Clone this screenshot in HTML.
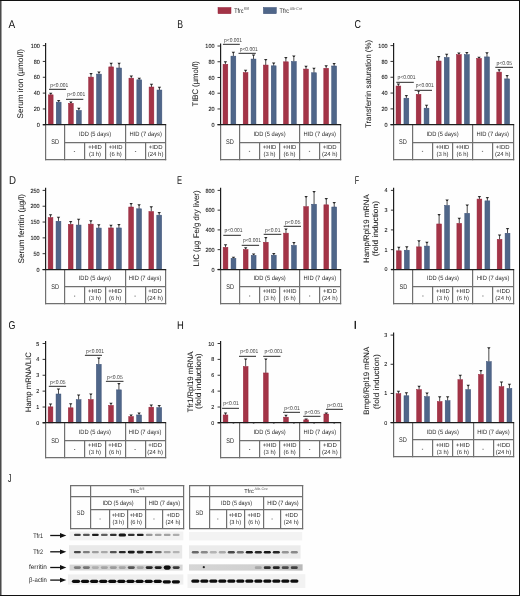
<!DOCTYPE html>
<html><head><meta charset="utf-8"><style>
html,body{margin:0;padding:0;background:#fff;width:520px;height:596px;overflow:hidden;}
svg{display:block;will-change:transform;text-rendering:geometricPrecision;font-family:"Liberation Sans", sans-serif;}
</style></head><body>
<svg width="520" height="596" viewBox="0 0 520 596" font-family="Liberation Sans, sans-serif">
<defs><filter id="bl" x="-20%" y="-60%" width="140%" height="220%"><feGaussianBlur stdDeviation="0.45"/></filter><linearGradient id="fg" x1="0" x2="1" y1="0" y2="0"><stop offset="0" stop-color="#d6d6d6"/><stop offset="0.7" stop-color="#cfcfcf"/><stop offset="1" stop-color="#b8b8b8"/></linearGradient></defs>
<rect x="0" y="0" width="520" height="596" fill="#fefefe"/>
<text x="8.40" y="27.60" font-size="11.4" fill="#111"  textLength="6.7" lengthAdjust="spacingAndGlyphs" >A</text>
<text x="177.20" y="27.60" font-size="11.4" fill="#111"  textLength="5.8" lengthAdjust="spacingAndGlyphs" >B</text>
<text x="354.50" y="27.60" font-size="11.4" fill="#111"  textLength="6.4" lengthAdjust="spacingAndGlyphs" >C</text>
<text x="8.90" y="183.90" font-size="11.4" fill="#111"  textLength="7.0" lengthAdjust="spacingAndGlyphs" >D</text>
<text x="177.00" y="183.90" font-size="11.4" fill="#111"  textLength="5.1" lengthAdjust="spacingAndGlyphs" >E</text>
<text x="354.70" y="183.90" font-size="11.4" fill="#111"  textLength="4.4" lengthAdjust="spacingAndGlyphs" >F</text>
<text x="8.40" y="328.90" font-size="11.4" fill="#111"  textLength="6.9" lengthAdjust="spacingAndGlyphs" >G</text>
<text x="177.00" y="328.90" font-size="11.4" fill="#111"  textLength="6.8" lengthAdjust="spacingAndGlyphs" >H</text>
<text x="7.70" y="481.80" font-size="11.4" fill="#111"  textLength="3.8" lengthAdjust="spacingAndGlyphs" >J</text>
<rect x="354.60" y="320.90" width="1.35" height="8.00" fill="#1a1a1a"/>
<rect x="218.00" y="7.50" width="13.00" height="6.20" fill="#a33447" stroke="#95223a" stroke-width="0.5"/>
<rect x="263.40" y="7.50" width="12.90" height="6.20" fill="#4f6689" stroke="#3a4f75" stroke-width="0.5"/>
<text x="234.20" y="13.30" font-size="6.5" fill="#1a1a1a"  textLength="9.3" lengthAdjust="spacingAndGlyphs" >Tfrc</text>
<text x="244.10" y="9.90" font-size="4.0" fill="#555"  textLength="5.0" lengthAdjust="spacingAndGlyphs" >fl/fl</text>
<text x="279.60" y="13.30" font-size="6.5" fill="#1a1a1a"  textLength="9.3" lengthAdjust="spacingAndGlyphs" >Tfrc</text>
<text x="289.80" y="9.90" font-size="4.0" fill="#555"  textLength="12.4" lengthAdjust="spacingAndGlyphs" >Alb-Cre</text>
<line x1="45.60" y1="43.00" x2="45.60" y2="124.80" stroke="#1e1e1e" stroke-width="1.2"/>
<line x1="42.80" y1="124.80" x2="45.60" y2="124.80" stroke="#1e1e1e" stroke-width="0.9"/>
<text x="39.80" y="126.90" font-size="6.0" fill="#1a1a1a" text-anchor="end" textLength="3.05" lengthAdjust="spacingAndGlyphs" stroke="#1a1a1a" stroke-width="0.1">0</text>
<line x1="42.80" y1="108.96" x2="45.60" y2="108.96" stroke="#1e1e1e" stroke-width="0.9"/>
<text x="39.80" y="111.06" font-size="6.0" fill="#1a1a1a" text-anchor="end" textLength="6.1" lengthAdjust="spacingAndGlyphs" stroke="#1a1a1a" stroke-width="0.1">20</text>
<line x1="42.80" y1="93.12" x2="45.60" y2="93.12" stroke="#1e1e1e" stroke-width="0.9"/>
<text x="39.80" y="95.22" font-size="6.0" fill="#1a1a1a" text-anchor="end" textLength="6.1" lengthAdjust="spacingAndGlyphs" stroke="#1a1a1a" stroke-width="0.1">40</text>
<line x1="42.80" y1="77.28" x2="45.60" y2="77.28" stroke="#1e1e1e" stroke-width="0.9"/>
<text x="39.80" y="79.38" font-size="6.0" fill="#1a1a1a" text-anchor="end" textLength="6.1" lengthAdjust="spacingAndGlyphs" stroke="#1a1a1a" stroke-width="0.1">60</text>
<line x1="42.80" y1="61.44" x2="45.60" y2="61.44" stroke="#1e1e1e" stroke-width="0.9"/>
<text x="39.80" y="63.54" font-size="6.0" fill="#1a1a1a" text-anchor="end" textLength="6.1" lengthAdjust="spacingAndGlyphs" stroke="#1a1a1a" stroke-width="0.1">80</text>
<line x1="42.80" y1="45.60" x2="45.60" y2="45.60" stroke="#1e1e1e" stroke-width="0.9"/>
<text x="39.80" y="47.70" font-size="6.0" fill="#1a1a1a" text-anchor="end" textLength="9.149999999999999" lengthAdjust="spacingAndGlyphs" stroke="#1a1a1a" stroke-width="0.1">100</text>
<text x="23.40" y="83.75" font-size="8.1" fill="#1a1a1a" text-anchor="middle" textLength="69.5" lengthAdjust="spacingAndGlyphs" transform="rotate(-90 23.4 83.75)" stroke="#1a1a1a" stroke-width="0.05">Serum iron (µmol/l)</text>
<line x1="45.60" y1="124.80" x2="45.60" y2="160.20" stroke="#707070" stroke-width="1.2"/>
<line x1="64.60" y1="124.80" x2="64.60" y2="160.20" stroke="#707070" stroke-width="1.2"/>
<line x1="125.60" y1="124.80" x2="125.60" y2="160.20" stroke="#707070" stroke-width="1.2"/>
<line x1="165.60" y1="124.80" x2="165.60" y2="160.20" stroke="#707070" stroke-width="1.2"/>
<line x1="84.60" y1="142.60" x2="84.60" y2="159.60" stroke="#707070" stroke-width="1.2"/>
<line x1="105.60" y1="142.60" x2="105.60" y2="159.60" stroke="#707070" stroke-width="1.2"/>
<line x1="145.60" y1="142.60" x2="145.60" y2="159.60" stroke="#707070" stroke-width="1.2"/>
<line x1="64.60" y1="142.60" x2="165.60" y2="142.60" stroke="#707070" stroke-width="1.2"/>
<line x1="45.00" y1="159.60" x2="166.20" y2="159.60" stroke="#707070" stroke-width="1.2"/>
<text x="55.15" y="144.40" font-size="6.8" fill="#2a2a2a" text-anchor="middle" textLength="7.8" lengthAdjust="spacingAndGlyphs" >SD</text>
<text x="95.05" y="135.70" font-size="6.25" fill="#2a2a2a" text-anchor="middle" textLength="32.2" lengthAdjust="spacingAndGlyphs" >IDD (5 days)</text>
<text x="145.65" y="135.70" font-size="6.25" fill="#2a2a2a" text-anchor="middle" textLength="32.5" lengthAdjust="spacingAndGlyphs" >HID (7 days)</text>
<rect x="73.85" y="151.00" width="1.20" height="0.80" fill="#555"/>
<rect x="134.95" y="151.00" width="1.20" height="0.80" fill="#555"/>
<text x="95.00" y="148.70" font-size="5.9" fill="#2a2a2a" text-anchor="middle" textLength="13.6" lengthAdjust="spacingAndGlyphs" >+HID</text>
<text x="95.00" y="155.70" font-size="5.9" fill="#2a2a2a" text-anchor="middle" textLength="12.1" lengthAdjust="spacingAndGlyphs" >(3 h)</text>
<text x="115.60" y="148.70" font-size="5.9" fill="#2a2a2a" text-anchor="middle" textLength="13.6" lengthAdjust="spacingAndGlyphs" >+HID</text>
<text x="115.60" y="155.70" font-size="5.9" fill="#2a2a2a" text-anchor="middle" textLength="12.1" lengthAdjust="spacingAndGlyphs" >(6 h)</text>
<text x="155.60" y="148.70" font-size="5.9" fill="#2a2a2a" text-anchor="middle" textLength="13.8" lengthAdjust="spacingAndGlyphs" >+IDD</text>
<text x="155.60" y="155.70" font-size="5.9" fill="#2a2a2a" text-anchor="middle" textLength="15.6" lengthAdjust="spacingAndGlyphs" >(24 h)</text>
<line x1="50.73" y1="93.28" x2="50.73" y2="94.86" stroke="#4a4a4a" stroke-width="1.0"/>
<path d="M49.02 92.68 H52.43 L51.33 94.18 H50.12 Z" fill="#2a2a2a"/>
<rect x="48.35" y="94.86" width="4.75" height="29.94" fill="#a33447" stroke="#95223a" stroke-width="0.5"/>
<line x1="58.67" y1="100.49" x2="58.67" y2="102.15" stroke="#4a4a4a" stroke-width="1.0"/>
<path d="M56.97 99.89 H60.38 L59.27 101.39 H58.07 Z" fill="#2a2a2a"/>
<rect x="56.25" y="102.15" width="4.85" height="22.65" fill="#4f6689" stroke="#3a4f75" stroke-width="0.5"/>
<line x1="70.88" y1="102.15" x2="70.88" y2="103.34" stroke="#4a4a4a" stroke-width="1.0"/>
<path d="M69.17 101.55 H72.58 L71.47 103.05 H70.28 Z" fill="#2a2a2a"/>
<rect x="68.50" y="103.34" width="4.75" height="21.46" fill="#a33447" stroke="#95223a" stroke-width="0.5"/>
<line x1="78.82" y1="108.25" x2="78.82" y2="110.46" stroke="#4a4a4a" stroke-width="1.0"/>
<path d="M77.12 107.65 H80.52 L79.42 109.15 H78.22 Z" fill="#2a2a2a"/>
<rect x="76.40" y="110.46" width="4.85" height="14.34" fill="#4f6689" stroke="#3a4f75" stroke-width="0.5"/>
<line x1="91.02" y1="73.64" x2="91.02" y2="77.12" stroke="#4a4a4a" stroke-width="1.0"/>
<path d="M89.32 73.04 H92.72 L91.62 74.54 H90.42 Z" fill="#2a2a2a"/>
<rect x="88.65" y="77.12" width="4.75" height="47.68" fill="#a33447" stroke="#95223a" stroke-width="0.5"/>
<line x1="98.97" y1="72.13" x2="98.97" y2="74.11" stroke="#4a4a4a" stroke-width="1.0"/>
<path d="M97.27 71.53 H100.67 L99.57 73.03 H98.37 Z" fill="#2a2a2a"/>
<rect x="96.55" y="74.11" width="4.85" height="50.69" fill="#4f6689" stroke="#3a4f75" stroke-width="0.5"/>
<line x1="111.17" y1="63.34" x2="111.17" y2="66.90" stroke="#4a4a4a" stroke-width="1.0"/>
<path d="M109.47 62.74 H112.88 L111.77 64.24 H110.58 Z" fill="#2a2a2a"/>
<rect x="108.80" y="66.90" width="4.75" height="57.90" fill="#a33447" stroke="#95223a" stroke-width="0.5"/>
<line x1="119.12" y1="63.34" x2="119.12" y2="68.01" stroke="#4a4a4a" stroke-width="1.0"/>
<path d="M117.42 62.74 H120.82 L119.72 64.24 H118.52 Z" fill="#2a2a2a"/>
<rect x="116.70" y="68.01" width="4.85" height="56.79" fill="#4f6689" stroke="#3a4f75" stroke-width="0.5"/>
<line x1="131.32" y1="76.01" x2="131.32" y2="78.15" stroke="#4a4a4a" stroke-width="1.0"/>
<path d="M129.62 75.41 H133.02 L131.92 76.91 H130.72 Z" fill="#2a2a2a"/>
<rect x="128.95" y="78.15" width="4.75" height="46.65" fill="#a33447" stroke="#95223a" stroke-width="0.5"/>
<line x1="139.28" y1="78.31" x2="139.28" y2="79.81" stroke="#4a4a4a" stroke-width="1.0"/>
<path d="M137.58 77.71 H140.97 L139.88 79.21 H138.68 Z" fill="#2a2a2a"/>
<rect x="136.85" y="79.81" width="4.85" height="44.99" fill="#4f6689" stroke="#3a4f75" stroke-width="0.5"/>
<line x1="151.47" y1="84.25" x2="151.47" y2="87.02" stroke="#4a4a4a" stroke-width="1.0"/>
<path d="M149.78 83.65 H153.17 L152.07 85.15 H150.88 Z" fill="#2a2a2a"/>
<rect x="149.10" y="87.02" width="4.75" height="37.78" fill="#a33447" stroke="#95223a" stroke-width="0.5"/>
<line x1="159.43" y1="87.34" x2="159.43" y2="90.03" stroke="#4a4a4a" stroke-width="1.0"/>
<path d="M157.73 86.74 H161.12 L160.03 88.24 H158.83 Z" fill="#2a2a2a"/>
<rect x="157.00" y="90.03" width="4.85" height="34.77" fill="#4f6689" stroke="#3a4f75" stroke-width="0.5"/>
<line x1="42.80" y1="124.60" x2="166.20" y2="124.60" stroke="#1e1e1e" stroke-width="1.2"/>
<line x1="49.00" y1="89.40" x2="66.00" y2="89.40" stroke="#505050" stroke-width="1.25"/>
<text x="50.20" y="87.10" font-size="5.6" fill="#444"  textLength="18.0" lengthAdjust="spacingAndGlyphs" >p&lt;0.001</text>
<line x1="66.00" y1="99.40" x2="83.30" y2="99.40" stroke="#505050" stroke-width="1.25"/>
<text x="67.20" y="96.30" font-size="5.6" fill="#444"  textLength="18.0" lengthAdjust="spacingAndGlyphs" >p&lt;0.001</text>
<line x1="220.60" y1="43.40" x2="220.60" y2="124.70" stroke="#1e1e1e" stroke-width="1.2"/>
<line x1="217.50" y1="124.70" x2="220.60" y2="124.70" stroke="#1e1e1e" stroke-width="0.9"/>
<text x="214.50" y="126.80" font-size="6.0" fill="#1a1a1a" text-anchor="end" textLength="3.05" lengthAdjust="spacingAndGlyphs" stroke="#1a1a1a" stroke-width="0.1">0</text>
<line x1="217.50" y1="108.96" x2="220.60" y2="108.96" stroke="#1e1e1e" stroke-width="0.9"/>
<text x="214.50" y="111.06" font-size="6.0" fill="#1a1a1a" text-anchor="end" textLength="6.1" lengthAdjust="spacingAndGlyphs" stroke="#1a1a1a" stroke-width="0.1">20</text>
<line x1="217.50" y1="93.22" x2="220.60" y2="93.22" stroke="#1e1e1e" stroke-width="0.9"/>
<text x="214.50" y="95.32" font-size="6.0" fill="#1a1a1a" text-anchor="end" textLength="6.1" lengthAdjust="spacingAndGlyphs" stroke="#1a1a1a" stroke-width="0.1">40</text>
<line x1="217.50" y1="77.48" x2="220.60" y2="77.48" stroke="#1e1e1e" stroke-width="0.9"/>
<text x="214.50" y="79.58" font-size="6.0" fill="#1a1a1a" text-anchor="end" textLength="6.1" lengthAdjust="spacingAndGlyphs" stroke="#1a1a1a" stroke-width="0.1">60</text>
<line x1="217.50" y1="61.74" x2="220.60" y2="61.74" stroke="#1e1e1e" stroke-width="0.9"/>
<text x="214.50" y="63.84" font-size="6.0" fill="#1a1a1a" text-anchor="end" textLength="6.1" lengthAdjust="spacingAndGlyphs" stroke="#1a1a1a" stroke-width="0.1">80</text>
<line x1="217.50" y1="46.00" x2="220.60" y2="46.00" stroke="#1e1e1e" stroke-width="0.9"/>
<text x="214.50" y="48.10" font-size="6.0" fill="#1a1a1a" text-anchor="end" textLength="9.149999999999999" lengthAdjust="spacingAndGlyphs" stroke="#1a1a1a" stroke-width="0.1">100</text>
<text x="197.90" y="83.80" font-size="8.1" fill="#1a1a1a" text-anchor="middle" textLength="45.4" lengthAdjust="spacingAndGlyphs" transform="rotate(-90 197.9 83.8)" stroke="#1a1a1a" stroke-width="0.05">TIBC (µmol/l)</text>
<line x1="220.60" y1="124.70" x2="220.60" y2="160.20" stroke="#707070" stroke-width="1.2"/>
<line x1="239.60" y1="124.70" x2="239.60" y2="160.20" stroke="#707070" stroke-width="1.2"/>
<line x1="299.60" y1="124.70" x2="299.60" y2="160.20" stroke="#707070" stroke-width="1.2"/>
<line x1="340.60" y1="124.70" x2="340.60" y2="160.20" stroke="#707070" stroke-width="1.2"/>
<line x1="259.60" y1="142.60" x2="259.60" y2="159.60" stroke="#707070" stroke-width="1.2"/>
<line x1="279.60" y1="142.60" x2="279.60" y2="159.60" stroke="#707070" stroke-width="1.2"/>
<line x1="319.60" y1="142.60" x2="319.60" y2="159.60" stroke="#707070" stroke-width="1.2"/>
<line x1="239.60" y1="142.60" x2="340.60" y2="142.60" stroke="#707070" stroke-width="1.2"/>
<line x1="220.00" y1="159.60" x2="341.20" y2="159.60" stroke="#707070" stroke-width="1.2"/>
<text x="230.00" y="144.30" font-size="6.8" fill="#2a2a2a" text-anchor="middle" textLength="7.8" lengthAdjust="spacingAndGlyphs" >SD</text>
<text x="269.50" y="135.60" font-size="6.25" fill="#2a2a2a" text-anchor="middle" textLength="32.2" lengthAdjust="spacingAndGlyphs" >IDD (5 days)</text>
<text x="319.75" y="135.60" font-size="6.25" fill="#2a2a2a" text-anchor="middle" textLength="32.5" lengthAdjust="spacingAndGlyphs" >HID (7 days)</text>
<rect x="248.90" y="150.90" width="1.20" height="0.80" fill="#555"/>
<rect x="308.90" y="150.90" width="1.20" height="0.80" fill="#555"/>
<text x="269.50" y="148.60" font-size="5.9" fill="#2a2a2a" text-anchor="middle" textLength="13.6" lengthAdjust="spacingAndGlyphs" >+HID</text>
<text x="269.50" y="155.60" font-size="5.9" fill="#2a2a2a" text-anchor="middle" textLength="12.1" lengthAdjust="spacingAndGlyphs" >(3 h)</text>
<text x="289.50" y="148.60" font-size="5.9" fill="#2a2a2a" text-anchor="middle" textLength="13.6" lengthAdjust="spacingAndGlyphs" >+HID</text>
<text x="289.50" y="155.60" font-size="5.9" fill="#2a2a2a" text-anchor="middle" textLength="12.1" lengthAdjust="spacingAndGlyphs" >(6 h)</text>
<text x="329.75" y="148.60" font-size="5.9" fill="#2a2a2a" text-anchor="middle" textLength="13.8" lengthAdjust="spacingAndGlyphs" >+IDD</text>
<text x="329.75" y="155.60" font-size="5.9" fill="#2a2a2a" text-anchor="middle" textLength="15.6" lengthAdjust="spacingAndGlyphs" >(24 h)</text>
<line x1="225.42" y1="61.82" x2="225.42" y2="64.26" stroke="#4a4a4a" stroke-width="1.0"/>
<path d="M223.72 61.22 H227.12 L226.02 62.72 H224.82 Z" fill="#2a2a2a"/>
<rect x="223.05" y="64.26" width="4.75" height="60.44" fill="#a33447" stroke="#95223a" stroke-width="0.5"/>
<line x1="233.38" y1="52.30" x2="233.38" y2="56.15" stroke="#4a4a4a" stroke-width="1.0"/>
<path d="M231.68 51.70 H235.07 L233.97 53.20 H232.78 Z" fill="#2a2a2a"/>
<rect x="230.95" y="56.15" width="4.85" height="68.55" fill="#4f6689" stroke="#3a4f75" stroke-width="0.5"/>
<line x1="245.57" y1="70.24" x2="245.57" y2="72.60" stroke="#4a4a4a" stroke-width="1.0"/>
<path d="M243.88 69.64 H247.27 L246.17 71.14 H244.97 Z" fill="#2a2a2a"/>
<rect x="243.20" y="72.60" width="4.75" height="52.10" fill="#a33447" stroke="#95223a" stroke-width="0.5"/>
<line x1="253.53" y1="55.21" x2="253.53" y2="59.06" stroke="#4a4a4a" stroke-width="1.0"/>
<path d="M251.83 54.61 H255.22 L254.12 56.11 H252.93 Z" fill="#2a2a2a"/>
<rect x="251.10" y="59.06" width="4.85" height="65.64" fill="#4f6689" stroke="#3a4f75" stroke-width="0.5"/>
<line x1="265.72" y1="59.54" x2="265.72" y2="65.05" stroke="#4a4a4a" stroke-width="1.0"/>
<path d="M264.02 58.94 H267.42 L266.32 60.44 H265.12 Z" fill="#2a2a2a"/>
<rect x="263.35" y="65.05" width="4.75" height="59.65" fill="#a33447" stroke="#95223a" stroke-width="0.5"/>
<line x1="273.68" y1="63.08" x2="273.68" y2="65.83" stroke="#4a4a4a" stroke-width="1.0"/>
<path d="M271.98 62.48 H275.38 L274.28 63.98 H273.07 Z" fill="#2a2a2a"/>
<rect x="271.25" y="65.83" width="4.85" height="58.87" fill="#4f6689" stroke="#3a4f75" stroke-width="0.5"/>
<line x1="285.88" y1="57.49" x2="285.88" y2="61.82" stroke="#4a4a4a" stroke-width="1.0"/>
<path d="M284.18 56.89 H287.57 L286.48 58.39 H285.27 Z" fill="#2a2a2a"/>
<rect x="283.50" y="61.82" width="4.75" height="62.88" fill="#a33447" stroke="#95223a" stroke-width="0.5"/>
<line x1="293.83" y1="55.99" x2="293.83" y2="61.50" stroke="#4a4a4a" stroke-width="1.0"/>
<path d="M292.13 55.39 H295.53 L294.43 56.89 H293.23 Z" fill="#2a2a2a"/>
<rect x="291.40" y="61.50" width="4.85" height="63.20" fill="#4f6689" stroke="#3a4f75" stroke-width="0.5"/>
<line x1="306.02" y1="66.46" x2="306.02" y2="69.06" stroke="#4a4a4a" stroke-width="1.0"/>
<path d="M304.32 65.86 H307.72 L306.62 67.36 H305.42 Z" fill="#2a2a2a"/>
<rect x="303.65" y="69.06" width="4.75" height="55.64" fill="#a33447" stroke="#95223a" stroke-width="0.5"/>
<line x1="313.98" y1="68.43" x2="313.98" y2="72.76" stroke="#4a4a4a" stroke-width="1.0"/>
<path d="M312.28 67.83 H315.68 L314.58 69.33 H313.38 Z" fill="#2a2a2a"/>
<rect x="311.55" y="72.76" width="4.85" height="51.94" fill="#4f6689" stroke="#3a4f75" stroke-width="0.5"/>
<line x1="326.18" y1="65.83" x2="326.18" y2="68.27" stroke="#4a4a4a" stroke-width="1.0"/>
<path d="M324.48 65.23 H327.88 L326.78 66.73 H325.57 Z" fill="#2a2a2a"/>
<rect x="323.80" y="68.27" width="4.75" height="56.43" fill="#a33447" stroke="#95223a" stroke-width="0.5"/>
<line x1="334.13" y1="63.55" x2="334.13" y2="65.99" stroke="#4a4a4a" stroke-width="1.0"/>
<path d="M332.43 62.95 H335.83 L334.73 64.45 H333.53 Z" fill="#2a2a2a"/>
<rect x="331.70" y="65.99" width="4.85" height="58.71" fill="#4f6689" stroke="#3a4f75" stroke-width="0.5"/>
<line x1="217.50" y1="124.60" x2="341.20" y2="124.60" stroke="#1e1e1e" stroke-width="1.2"/>
<line x1="222.90" y1="44.40" x2="239.80" y2="44.40" stroke="#505050" stroke-width="1.25"/>
<text x="224.10" y="42.10" font-size="5.6" fill="#444"  textLength="18.0" lengthAdjust="spacingAndGlyphs" >p&lt;0.001</text>
<line x1="238.50" y1="53.40" x2="255.80" y2="53.40" stroke="#505050" stroke-width="1.25"/>
<text x="239.70" y="50.80" font-size="5.6" fill="#444"  textLength="18.0" lengthAdjust="spacingAndGlyphs" >p&lt;0.001</text>
<line x1="393.60" y1="43.00" x2="393.60" y2="124.70" stroke="#1e1e1e" stroke-width="1.2"/>
<line x1="390.50" y1="124.70" x2="393.60" y2="124.70" stroke="#1e1e1e" stroke-width="0.9"/>
<text x="387.50" y="126.80" font-size="6.0" fill="#1a1a1a" text-anchor="end" textLength="3.05" lengthAdjust="spacingAndGlyphs" stroke="#1a1a1a" stroke-width="0.1">0</text>
<line x1="390.50" y1="108.88" x2="393.60" y2="108.88" stroke="#1e1e1e" stroke-width="0.9"/>
<text x="387.50" y="110.98" font-size="6.0" fill="#1a1a1a" text-anchor="end" textLength="6.1" lengthAdjust="spacingAndGlyphs" stroke="#1a1a1a" stroke-width="0.1">20</text>
<line x1="390.50" y1="93.06" x2="393.60" y2="93.06" stroke="#1e1e1e" stroke-width="0.9"/>
<text x="387.50" y="95.16" font-size="6.0" fill="#1a1a1a" text-anchor="end" textLength="6.1" lengthAdjust="spacingAndGlyphs" stroke="#1a1a1a" stroke-width="0.1">40</text>
<line x1="390.50" y1="77.24" x2="393.60" y2="77.24" stroke="#1e1e1e" stroke-width="0.9"/>
<text x="387.50" y="79.34" font-size="6.0" fill="#1a1a1a" text-anchor="end" textLength="6.1" lengthAdjust="spacingAndGlyphs" stroke="#1a1a1a" stroke-width="0.1">60</text>
<line x1="390.50" y1="61.42" x2="393.60" y2="61.42" stroke="#1e1e1e" stroke-width="0.9"/>
<text x="387.50" y="63.52" font-size="6.0" fill="#1a1a1a" text-anchor="end" textLength="6.1" lengthAdjust="spacingAndGlyphs" stroke="#1a1a1a" stroke-width="0.1">80</text>
<line x1="390.50" y1="45.60" x2="393.60" y2="45.60" stroke="#1e1e1e" stroke-width="0.9"/>
<text x="387.50" y="47.70" font-size="6.0" fill="#1a1a1a" text-anchor="end" textLength="9.149999999999999" lengthAdjust="spacingAndGlyphs" stroke="#1a1a1a" stroke-width="0.1">100</text>
<text x="371.40" y="84.00" font-size="8.1" fill="#1a1a1a" text-anchor="middle" textLength="88" lengthAdjust="spacingAndGlyphs" transform="rotate(-90 371.4 84.0)" stroke="#1a1a1a" stroke-width="0.05">Transferrin saturation (%)</text>
<line x1="393.60" y1="124.70" x2="393.60" y2="160.20" stroke="#707070" stroke-width="1.2"/>
<line x1="412.60" y1="124.70" x2="412.60" y2="160.20" stroke="#707070" stroke-width="1.2"/>
<line x1="472.60" y1="124.70" x2="472.60" y2="160.20" stroke="#707070" stroke-width="1.2"/>
<line x1="513.60" y1="124.70" x2="513.60" y2="160.20" stroke="#707070" stroke-width="1.2"/>
<line x1="432.60" y1="142.60" x2="432.60" y2="159.60" stroke="#707070" stroke-width="1.2"/>
<line x1="452.60" y1="142.60" x2="452.60" y2="159.60" stroke="#707070" stroke-width="1.2"/>
<line x1="492.60" y1="142.60" x2="492.60" y2="159.60" stroke="#707070" stroke-width="1.2"/>
<line x1="412.60" y1="142.60" x2="513.60" y2="142.60" stroke="#707070" stroke-width="1.2"/>
<line x1="393.00" y1="159.60" x2="514.20" y2="159.60" stroke="#707070" stroke-width="1.2"/>
<text x="403.00" y="144.30" font-size="6.8" fill="#2a2a2a" text-anchor="middle" textLength="7.8" lengthAdjust="spacingAndGlyphs" >SD</text>
<text x="442.50" y="135.60" font-size="6.25" fill="#2a2a2a" text-anchor="middle" textLength="32.2" lengthAdjust="spacingAndGlyphs" >IDD (5 days)</text>
<text x="492.75" y="135.60" font-size="6.25" fill="#2a2a2a" text-anchor="middle" textLength="32.5" lengthAdjust="spacingAndGlyphs" >HID (7 days)</text>
<rect x="421.90" y="150.90" width="1.20" height="0.80" fill="#555"/>
<rect x="481.90" y="150.90" width="1.20" height="0.80" fill="#555"/>
<text x="442.50" y="148.60" font-size="5.9" fill="#2a2a2a" text-anchor="middle" textLength="13.6" lengthAdjust="spacingAndGlyphs" >+HID</text>
<text x="442.50" y="155.60" font-size="5.9" fill="#2a2a2a" text-anchor="middle" textLength="12.1" lengthAdjust="spacingAndGlyphs" >(3 h)</text>
<text x="462.50" y="148.60" font-size="5.9" fill="#2a2a2a" text-anchor="middle" textLength="13.6" lengthAdjust="spacingAndGlyphs" >+HID</text>
<text x="462.50" y="155.60" font-size="5.9" fill="#2a2a2a" text-anchor="middle" textLength="12.1" lengthAdjust="spacingAndGlyphs" >(6 h)</text>
<text x="502.75" y="148.60" font-size="5.9" fill="#2a2a2a" text-anchor="middle" textLength="13.8" lengthAdjust="spacingAndGlyphs" >+IDD</text>
<text x="502.75" y="155.60" font-size="5.9" fill="#2a2a2a" text-anchor="middle" textLength="15.6" lengthAdjust="spacingAndGlyphs" >(24 h)</text>
<line x1="398.43" y1="84.20" x2="398.43" y2="86.02" stroke="#4a4a4a" stroke-width="1.0"/>
<path d="M396.73 83.60 H400.12 L399.03 85.10 H397.82 Z" fill="#2a2a2a"/>
<rect x="396.05" y="86.02" width="4.75" height="38.68" fill="#a33447" stroke="#95223a" stroke-width="0.5"/>
<line x1="406.38" y1="95.51" x2="406.38" y2="98.20" stroke="#4a4a4a" stroke-width="1.0"/>
<path d="M404.68 94.91 H408.08 L406.98 96.41 H405.78 Z" fill="#2a2a2a"/>
<rect x="403.95" y="98.20" width="4.85" height="26.50" fill="#4f6689" stroke="#3a4f75" stroke-width="0.5"/>
<line x1="418.57" y1="91.00" x2="418.57" y2="94.33" stroke="#4a4a4a" stroke-width="1.0"/>
<path d="M416.88 90.40 H420.27 L419.18 91.90 H417.97 Z" fill="#2a2a2a"/>
<rect x="416.20" y="94.33" width="4.75" height="30.37" fill="#a33447" stroke="#95223a" stroke-width="0.5"/>
<line x1="426.53" y1="105.32" x2="426.53" y2="108.17" stroke="#4a4a4a" stroke-width="1.0"/>
<path d="M424.83 104.72 H428.23 L427.13 106.22 H425.93 Z" fill="#2a2a2a"/>
<rect x="424.10" y="108.17" width="4.85" height="16.53" fill="#4f6689" stroke="#3a4f75" stroke-width="0.5"/>
<line x1="438.73" y1="56.52" x2="438.73" y2="61.02" stroke="#4a4a4a" stroke-width="1.0"/>
<path d="M437.03 55.92 H440.43 L439.33 57.42 H438.12 Z" fill="#2a2a2a"/>
<rect x="436.35" y="61.02" width="4.75" height="63.68" fill="#a33447" stroke="#95223a" stroke-width="0.5"/>
<line x1="446.68" y1="54.30" x2="446.68" y2="57.47" stroke="#4a4a4a" stroke-width="1.0"/>
<path d="M444.98 53.70 H448.38 L447.28 55.20 H446.08 Z" fill="#2a2a2a"/>
<rect x="444.25" y="57.47" width="4.85" height="67.23" fill="#4f6689" stroke="#3a4f75" stroke-width="0.5"/>
<line x1="458.88" y1="53.11" x2="458.88" y2="54.62" stroke="#4a4a4a" stroke-width="1.0"/>
<path d="M457.18 52.51 H460.57 L459.48 54.01 H458.27 Z" fill="#2a2a2a"/>
<rect x="456.50" y="54.62" width="4.75" height="70.08" fill="#a33447" stroke="#95223a" stroke-width="0.5"/>
<line x1="466.83" y1="52.72" x2="466.83" y2="54.62" stroke="#4a4a4a" stroke-width="1.0"/>
<path d="M465.13 52.12 H468.53 L467.43 53.62 H466.23 Z" fill="#2a2a2a"/>
<rect x="464.40" y="54.62" width="4.85" height="70.08" fill="#4f6689" stroke="#3a4f75" stroke-width="0.5"/>
<line x1="479.03" y1="57.47" x2="479.03" y2="58.41" stroke="#4a4a4a" stroke-width="1.0"/>
<path d="M477.33 56.87 H480.73 L479.63 58.37 H478.43 Z" fill="#2a2a2a"/>
<rect x="476.65" y="58.41" width="4.75" height="66.29" fill="#a33447" stroke="#95223a" stroke-width="0.5"/>
<line x1="486.98" y1="52.80" x2="486.98" y2="56.91" stroke="#4a4a4a" stroke-width="1.0"/>
<path d="M485.28 52.20 H488.68 L487.58 53.70 H486.38 Z" fill="#2a2a2a"/>
<rect x="484.55" y="56.91" width="4.85" height="67.79" fill="#4f6689" stroke="#3a4f75" stroke-width="0.5"/>
<line x1="499.18" y1="69.73" x2="499.18" y2="72.10" stroke="#4a4a4a" stroke-width="1.0"/>
<path d="M497.48 69.13 H500.88 L499.78 70.63 H498.57 Z" fill="#2a2a2a"/>
<rect x="496.80" y="72.10" width="4.75" height="52.60" fill="#a33447" stroke="#95223a" stroke-width="0.5"/>
<line x1="507.13" y1="75.58" x2="507.13" y2="78.90" stroke="#4a4a4a" stroke-width="1.0"/>
<path d="M505.43 74.98 H508.83 L507.73 76.48 H506.53 Z" fill="#2a2a2a"/>
<rect x="504.70" y="78.90" width="4.85" height="45.80" fill="#4f6689" stroke="#3a4f75" stroke-width="0.5"/>
<line x1="390.50" y1="124.60" x2="514.20" y2="124.60" stroke="#1e1e1e" stroke-width="1.2"/>
<line x1="396.30" y1="82.40" x2="413.80" y2="82.40" stroke="#505050" stroke-width="1.25"/>
<text x="397.50" y="79.40" font-size="5.6" fill="#444"  textLength="18.0" lengthAdjust="spacingAndGlyphs" >p&lt;0.001</text>
<line x1="414.60" y1="90.40" x2="432.00" y2="90.40" stroke="#505050" stroke-width="1.25"/>
<text x="415.80" y="87.40" font-size="5.6" fill="#444"  textLength="18.0" lengthAdjust="spacingAndGlyphs" >p&lt;0.001</text>
<line x1="495.30" y1="67.40" x2="513.00" y2="67.40" stroke="#505050" stroke-width="1.25"/>
<text x="496.50" y="64.50" font-size="5.6" fill="#444"  textLength="15.6" lengthAdjust="spacingAndGlyphs" >p&lt;0.05</text>
<line x1="45.60" y1="187.80" x2="45.60" y2="269.50" stroke="#1e1e1e" stroke-width="1.2"/>
<line x1="42.60" y1="269.50" x2="45.60" y2="269.50" stroke="#1e1e1e" stroke-width="0.9"/>
<text x="39.60" y="271.60" font-size="6.0" fill="#1a1a1a" text-anchor="end" textLength="3.05" lengthAdjust="spacingAndGlyphs" stroke="#1a1a1a" stroke-width="0.1">0</text>
<line x1="42.60" y1="253.68" x2="45.60" y2="253.68" stroke="#1e1e1e" stroke-width="0.9"/>
<text x="39.60" y="255.78" font-size="6.0" fill="#1a1a1a" text-anchor="end" textLength="6.1" lengthAdjust="spacingAndGlyphs" stroke="#1a1a1a" stroke-width="0.1">50</text>
<line x1="42.60" y1="237.86" x2="45.60" y2="237.86" stroke="#1e1e1e" stroke-width="0.9"/>
<text x="39.60" y="239.96" font-size="6.0" fill="#1a1a1a" text-anchor="end" textLength="9.149999999999999" lengthAdjust="spacingAndGlyphs" stroke="#1a1a1a" stroke-width="0.1">100</text>
<line x1="42.60" y1="222.04" x2="45.60" y2="222.04" stroke="#1e1e1e" stroke-width="0.9"/>
<text x="39.60" y="224.14" font-size="6.0" fill="#1a1a1a" text-anchor="end" textLength="9.149999999999999" lengthAdjust="spacingAndGlyphs" stroke="#1a1a1a" stroke-width="0.1">150</text>
<line x1="42.60" y1="206.22" x2="45.60" y2="206.22" stroke="#1e1e1e" stroke-width="0.9"/>
<text x="39.60" y="208.32" font-size="6.0" fill="#1a1a1a" text-anchor="end" textLength="9.149999999999999" lengthAdjust="spacingAndGlyphs" stroke="#1a1a1a" stroke-width="0.1">200</text>
<line x1="42.60" y1="190.40" x2="45.60" y2="190.40" stroke="#1e1e1e" stroke-width="0.9"/>
<text x="39.60" y="192.50" font-size="6.0" fill="#1a1a1a" text-anchor="end" textLength="9.149999999999999" lengthAdjust="spacingAndGlyphs" stroke="#1a1a1a" stroke-width="0.1">250</text>
<text x="24.30" y="228.70" font-size="8.1" fill="#1a1a1a" text-anchor="middle" textLength="69.5" lengthAdjust="spacingAndGlyphs" transform="rotate(-90 24.3 228.7)" stroke="#1a1a1a" stroke-width="0.05">Serum ferritin (µg/l)</text>
<line x1="45.60" y1="269.50" x2="45.60" y2="304.20" stroke="#707070" stroke-width="1.2"/>
<line x1="64.60" y1="269.50" x2="64.60" y2="304.20" stroke="#707070" stroke-width="1.2"/>
<line x1="125.60" y1="269.50" x2="125.60" y2="304.20" stroke="#707070" stroke-width="1.2"/>
<line x1="165.60" y1="269.50" x2="165.60" y2="304.20" stroke="#707070" stroke-width="1.2"/>
<line x1="84.60" y1="286.60" x2="84.60" y2="303.60" stroke="#707070" stroke-width="1.2"/>
<line x1="105.60" y1="286.60" x2="105.60" y2="303.60" stroke="#707070" stroke-width="1.2"/>
<line x1="145.60" y1="286.60" x2="145.60" y2="303.60" stroke="#707070" stroke-width="1.2"/>
<line x1="64.60" y1="286.60" x2="165.60" y2="286.60" stroke="#707070" stroke-width="1.2"/>
<line x1="45.00" y1="303.60" x2="166.20" y2="303.60" stroke="#707070" stroke-width="1.2"/>
<text x="55.10" y="289.10" font-size="6.8" fill="#2a2a2a" text-anchor="middle" textLength="7.8" lengthAdjust="spacingAndGlyphs" >SD</text>
<text x="94.85" y="280.40" font-size="6.25" fill="#2a2a2a" text-anchor="middle" textLength="32.2" lengthAdjust="spacingAndGlyphs" >IDD (5 days)</text>
<text x="145.10" y="280.40" font-size="6.25" fill="#2a2a2a" text-anchor="middle" textLength="32.5" lengthAdjust="spacingAndGlyphs" >HID (7 days)</text>
<rect x="74.00" y="295.70" width="1.20" height="0.80" fill="#555"/>
<rect x="134.50" y="295.70" width="1.20" height="0.80" fill="#555"/>
<text x="94.85" y="293.40" font-size="5.9" fill="#2a2a2a" text-anchor="middle" textLength="13.6" lengthAdjust="spacingAndGlyphs" >+HID</text>
<text x="94.85" y="300.40" font-size="5.9" fill="#2a2a2a" text-anchor="middle" textLength="12.1" lengthAdjust="spacingAndGlyphs" >(3 h)</text>
<text x="115.10" y="293.40" font-size="5.9" fill="#2a2a2a" text-anchor="middle" textLength="13.6" lengthAdjust="spacingAndGlyphs" >+HID</text>
<text x="115.10" y="300.40" font-size="5.9" fill="#2a2a2a" text-anchor="middle" textLength="12.1" lengthAdjust="spacingAndGlyphs" >(6 h)</text>
<text x="155.10" y="293.40" font-size="5.9" fill="#2a2a2a" text-anchor="middle" textLength="13.8" lengthAdjust="spacingAndGlyphs" >+IDD</text>
<text x="155.10" y="300.40" font-size="5.9" fill="#2a2a2a" text-anchor="middle" textLength="15.6" lengthAdjust="spacingAndGlyphs" >(24 h)</text>
<line x1="50.53" y1="214.76" x2="50.53" y2="217.61" stroke="#4a4a4a" stroke-width="1.0"/>
<path d="M48.83 214.16 H52.23 L51.13 215.66 H49.93 Z" fill="#2a2a2a"/>
<rect x="48.15" y="217.61" width="4.75" height="51.89" fill="#a33447" stroke="#95223a" stroke-width="0.5"/>
<line x1="58.48" y1="217.42" x2="58.48" y2="221.25" stroke="#4a4a4a" stroke-width="1.0"/>
<path d="M56.77 216.82 H60.18 L59.08 218.32 H57.88 Z" fill="#2a2a2a"/>
<rect x="56.05" y="221.25" width="4.85" height="48.25" fill="#4f6689" stroke="#3a4f75" stroke-width="0.5"/>
<line x1="70.67" y1="221.53" x2="70.67" y2="224.35" stroke="#4a4a4a" stroke-width="1.0"/>
<path d="M68.97 220.93 H72.38 L71.27 222.43 H70.08 Z" fill="#2a2a2a"/>
<rect x="68.30" y="224.35" width="4.75" height="45.15" fill="#a33447" stroke="#95223a" stroke-width="0.5"/>
<line x1="78.62" y1="219.45" x2="78.62" y2="225.05" stroke="#4a4a4a" stroke-width="1.0"/>
<path d="M76.92 218.85 H80.32 L79.22 220.35 H78.02 Z" fill="#2a2a2a"/>
<rect x="76.20" y="225.05" width="4.85" height="44.45" fill="#4f6689" stroke="#3a4f75" stroke-width="0.5"/>
<line x1="90.83" y1="220.93" x2="90.83" y2="224.13" stroke="#4a4a4a" stroke-width="1.0"/>
<path d="M89.12 220.33 H92.53 L91.42 221.83 H90.23 Z" fill="#2a2a2a"/>
<rect x="88.45" y="224.13" width="4.75" height="45.37" fill="#a33447" stroke="#95223a" stroke-width="0.5"/>
<line x1="98.77" y1="224.73" x2="98.77" y2="228.05" stroke="#4a4a4a" stroke-width="1.0"/>
<path d="M97.07 224.13 H100.47 L99.37 225.63 H98.17 Z" fill="#2a2a2a"/>
<rect x="96.35" y="228.05" width="4.85" height="41.45" fill="#4f6689" stroke="#3a4f75" stroke-width="0.5"/>
<line x1="110.98" y1="225.24" x2="110.98" y2="227.96" stroke="#4a4a4a" stroke-width="1.0"/>
<path d="M109.28 224.64 H112.68 L111.58 226.14 H110.38 Z" fill="#2a2a2a"/>
<rect x="108.60" y="227.96" width="4.75" height="41.54" fill="#a33447" stroke="#95223a" stroke-width="0.5"/>
<line x1="118.92" y1="224.63" x2="118.92" y2="227.96" stroke="#4a4a4a" stroke-width="1.0"/>
<path d="M117.22 224.03 H120.62 L119.52 225.53 H118.33 Z" fill="#2a2a2a"/>
<rect x="116.50" y="227.96" width="4.85" height="41.54" fill="#4f6689" stroke="#3a4f75" stroke-width="0.5"/>
<line x1="131.12" y1="203.72" x2="131.12" y2="207.01" stroke="#4a4a4a" stroke-width="1.0"/>
<path d="M129.43 203.12 H132.82 L131.72 204.62 H130.53 Z" fill="#2a2a2a"/>
<rect x="128.75" y="207.01" width="4.75" height="62.49" fill="#a33447" stroke="#95223a" stroke-width="0.5"/>
<line x1="139.08" y1="204.83" x2="139.08" y2="208.81" stroke="#4a4a4a" stroke-width="1.0"/>
<path d="M137.38 204.23 H140.78 L139.68 205.73 H138.48 Z" fill="#2a2a2a"/>
<rect x="136.65" y="208.81" width="4.85" height="60.69" fill="#4f6689" stroke="#3a4f75" stroke-width="0.5"/>
<line x1="151.27" y1="206.82" x2="151.27" y2="211.54" stroke="#4a4a4a" stroke-width="1.0"/>
<path d="M149.57 206.22 H152.97 L151.87 207.72 H150.67 Z" fill="#2a2a2a"/>
<rect x="148.90" y="211.54" width="4.75" height="57.96" fill="#a33447" stroke="#95223a" stroke-width="0.5"/>
<line x1="159.22" y1="212.64" x2="159.22" y2="215.14" stroke="#4a4a4a" stroke-width="1.0"/>
<path d="M157.53 212.04 H160.92 L159.82 213.54 H158.62 Z" fill="#2a2a2a"/>
<rect x="156.80" y="215.14" width="4.85" height="54.36" fill="#4f6689" stroke="#3a4f75" stroke-width="0.5"/>
<line x1="42.60" y1="269.60" x2="166.20" y2="269.60" stroke="#1e1e1e" stroke-width="1.2"/>
<line x1="220.60" y1="187.80" x2="220.60" y2="269.40" stroke="#1e1e1e" stroke-width="1.2"/>
<line x1="217.60" y1="269.40" x2="220.60" y2="269.40" stroke="#1e1e1e" stroke-width="0.9"/>
<text x="214.60" y="271.50" font-size="6.0" fill="#1a1a1a" text-anchor="end" textLength="3.05" lengthAdjust="spacingAndGlyphs" stroke="#1a1a1a" stroke-width="0.1">0</text>
<line x1="217.60" y1="249.65" x2="220.60" y2="249.65" stroke="#1e1e1e" stroke-width="0.9"/>
<text x="214.60" y="251.75" font-size="6.0" fill="#1a1a1a" text-anchor="end" textLength="9.149999999999999" lengthAdjust="spacingAndGlyphs" stroke="#1a1a1a" stroke-width="0.1">200</text>
<line x1="217.60" y1="229.90" x2="220.60" y2="229.90" stroke="#1e1e1e" stroke-width="0.9"/>
<text x="214.60" y="232.00" font-size="6.0" fill="#1a1a1a" text-anchor="end" textLength="9.149999999999999" lengthAdjust="spacingAndGlyphs" stroke="#1a1a1a" stroke-width="0.1">400</text>
<line x1="217.60" y1="210.15" x2="220.60" y2="210.15" stroke="#1e1e1e" stroke-width="0.9"/>
<text x="214.60" y="212.25" font-size="6.0" fill="#1a1a1a" text-anchor="end" textLength="9.149999999999999" lengthAdjust="spacingAndGlyphs" stroke="#1a1a1a" stroke-width="0.1">600</text>
<line x1="217.60" y1="190.40" x2="220.60" y2="190.40" stroke="#1e1e1e" stroke-width="0.9"/>
<text x="214.60" y="192.50" font-size="6.0" fill="#1a1a1a" text-anchor="end" textLength="9.149999999999999" lengthAdjust="spacingAndGlyphs" stroke="#1a1a1a" stroke-width="0.1">800</text>
<text x="198.55" y="228.40" font-size="8.1" fill="#1a1a1a" text-anchor="middle" textLength="76" lengthAdjust="spacingAndGlyphs" transform="rotate(-90 198.55 228.4)" stroke="#1a1a1a" stroke-width="0.05">LIC (µg Fe/g dry liver)</text>
<line x1="220.60" y1="269.40" x2="220.60" y2="304.20" stroke="#707070" stroke-width="1.2"/>
<line x1="239.60" y1="269.40" x2="239.60" y2="304.20" stroke="#707070" stroke-width="1.2"/>
<line x1="299.60" y1="269.40" x2="299.60" y2="304.20" stroke="#707070" stroke-width="1.2"/>
<line x1="340.60" y1="269.40" x2="340.60" y2="304.20" stroke="#707070" stroke-width="1.2"/>
<line x1="259.60" y1="286.60" x2="259.60" y2="303.60" stroke="#707070" stroke-width="1.2"/>
<line x1="279.60" y1="286.60" x2="279.60" y2="303.60" stroke="#707070" stroke-width="1.2"/>
<line x1="319.60" y1="286.60" x2="319.60" y2="303.60" stroke="#707070" stroke-width="1.2"/>
<line x1="239.60" y1="286.60" x2="340.60" y2="286.60" stroke="#707070" stroke-width="1.2"/>
<line x1="220.00" y1="303.60" x2="341.20" y2="303.60" stroke="#707070" stroke-width="1.2"/>
<text x="230.10" y="289.00" font-size="6.8" fill="#2a2a2a" text-anchor="middle" textLength="7.8" lengthAdjust="spacingAndGlyphs" >SD</text>
<text x="269.60" y="280.30" font-size="6.25" fill="#2a2a2a" text-anchor="middle" textLength="32.2" lengthAdjust="spacingAndGlyphs" >IDD (5 days)</text>
<text x="319.85" y="280.30" font-size="6.25" fill="#2a2a2a" text-anchor="middle" textLength="32.5" lengthAdjust="spacingAndGlyphs" >HID (7 days)</text>
<rect x="249.00" y="295.60" width="1.20" height="0.80" fill="#555"/>
<rect x="309.00" y="295.60" width="1.20" height="0.80" fill="#555"/>
<text x="269.60" y="293.30" font-size="5.9" fill="#2a2a2a" text-anchor="middle" textLength="13.6" lengthAdjust="spacingAndGlyphs" >+HID</text>
<text x="269.60" y="300.30" font-size="5.9" fill="#2a2a2a" text-anchor="middle" textLength="12.1" lengthAdjust="spacingAndGlyphs" >(3 h)</text>
<text x="289.60" y="293.30" font-size="5.9" fill="#2a2a2a" text-anchor="middle" textLength="13.6" lengthAdjust="spacingAndGlyphs" >+HID</text>
<text x="289.60" y="300.30" font-size="5.9" fill="#2a2a2a" text-anchor="middle" textLength="12.1" lengthAdjust="spacingAndGlyphs" >(6 h)</text>
<text x="329.85" y="293.30" font-size="5.9" fill="#2a2a2a" text-anchor="middle" textLength="13.8" lengthAdjust="spacingAndGlyphs" >+IDD</text>
<text x="329.85" y="300.30" font-size="5.9" fill="#2a2a2a" text-anchor="middle" textLength="15.6" lengthAdjust="spacingAndGlyphs" >(24 h)</text>
<line x1="225.52" y1="244.81" x2="225.52" y2="247.38" stroke="#4a4a4a" stroke-width="1.0"/>
<path d="M223.82 244.21 H227.22 L226.12 245.71 H224.92 Z" fill="#2a2a2a"/>
<rect x="223.15" y="247.38" width="4.75" height="22.02" fill="#a33447" stroke="#95223a" stroke-width="0.5"/>
<line x1="233.47" y1="257.35" x2="233.47" y2="258.34" stroke="#4a4a4a" stroke-width="1.0"/>
<path d="M231.78 256.75 H235.17 L234.07 258.25 H232.88 Z" fill="#2a2a2a"/>
<rect x="231.05" y="258.34" width="4.85" height="11.06" fill="#4f6689" stroke="#3a4f75" stroke-width="0.5"/>
<line x1="245.67" y1="247.77" x2="245.67" y2="249.55" stroke="#4a4a4a" stroke-width="1.0"/>
<path d="M243.97 247.17 H247.37 L246.27 248.67 H245.07 Z" fill="#2a2a2a"/>
<rect x="243.30" y="249.55" width="4.75" height="19.85" fill="#a33447" stroke="#95223a" stroke-width="0.5"/>
<line x1="253.62" y1="253.99" x2="253.62" y2="255.38" stroke="#4a4a4a" stroke-width="1.0"/>
<path d="M251.93 253.39 H255.32 L254.22 254.89 H253.03 Z" fill="#2a2a2a"/>
<rect x="251.20" y="255.38" width="4.85" height="14.02" fill="#4f6689" stroke="#3a4f75" stroke-width="0.5"/>
<line x1="265.82" y1="237.50" x2="265.82" y2="242.24" stroke="#4a4a4a" stroke-width="1.0"/>
<path d="M264.12 236.90 H267.52 L266.43 238.40 H265.22 Z" fill="#2a2a2a"/>
<rect x="263.45" y="242.24" width="4.75" height="27.16" fill="#a33447" stroke="#95223a" stroke-width="0.5"/>
<line x1="273.78" y1="253.70" x2="273.78" y2="255.18" stroke="#4a4a4a" stroke-width="1.0"/>
<path d="M272.08 253.10 H275.48 L274.38 254.60 H273.18 Z" fill="#2a2a2a"/>
<rect x="271.35" y="255.18" width="4.85" height="14.22" fill="#4f6689" stroke="#3a4f75" stroke-width="0.5"/>
<line x1="285.97" y1="229.11" x2="285.97" y2="233.16" stroke="#4a4a4a" stroke-width="1.0"/>
<path d="M284.27 228.51 H287.67 L286.57 230.01 H285.37 Z" fill="#2a2a2a"/>
<rect x="283.60" y="233.16" width="4.75" height="36.24" fill="#a33447" stroke="#95223a" stroke-width="0.5"/>
<line x1="293.93" y1="242.54" x2="293.93" y2="245.40" stroke="#4a4a4a" stroke-width="1.0"/>
<path d="M292.23 241.94 H295.62 L294.53 243.44 H293.32 Z" fill="#2a2a2a"/>
<rect x="291.50" y="245.40" width="4.85" height="24.00" fill="#4f6689" stroke="#3a4f75" stroke-width="0.5"/>
<line x1="306.12" y1="196.52" x2="306.12" y2="206.59" stroke="#4a4a4a" stroke-width="1.0"/>
<path d="M304.42 195.92 H307.82 L306.72 197.42 H305.52 Z" fill="#2a2a2a"/>
<rect x="303.75" y="206.59" width="4.75" height="62.80" fill="#a33447" stroke="#95223a" stroke-width="0.5"/>
<line x1="314.07" y1="191.49" x2="314.07" y2="204.23" stroke="#4a4a4a" stroke-width="1.0"/>
<path d="M312.38 190.89 H315.77 L314.68 192.39 H313.47 Z" fill="#2a2a2a"/>
<rect x="311.65" y="204.23" width="4.85" height="65.17" fill="#4f6689" stroke="#3a4f75" stroke-width="0.5"/>
<line x1="326.27" y1="198.69" x2="326.27" y2="204.82" stroke="#4a4a4a" stroke-width="1.0"/>
<path d="M324.57 198.09 H327.97 L326.88 199.59 H325.67 Z" fill="#2a2a2a"/>
<rect x="323.90" y="204.82" width="4.75" height="64.58" fill="#a33447" stroke="#95223a" stroke-width="0.5"/>
<line x1="334.23" y1="202.64" x2="334.23" y2="206.99" stroke="#4a4a4a" stroke-width="1.0"/>
<path d="M332.53 202.04 H335.93 L334.83 203.54 H333.62 Z" fill="#2a2a2a"/>
<rect x="331.80" y="206.99" width="4.85" height="62.41" fill="#4f6689" stroke="#3a4f75" stroke-width="0.5"/>
<line x1="217.60" y1="269.60" x2="341.20" y2="269.60" stroke="#1e1e1e" stroke-width="1.2"/>
<line x1="223.30" y1="235.40" x2="240.90" y2="235.40" stroke="#505050" stroke-width="1.25"/>
<text x="224.50" y="232.30" font-size="5.6" fill="#444"  textLength="18.0" lengthAdjust="spacingAndGlyphs" >p&lt;0.001</text>
<line x1="241.70" y1="245.40" x2="259.10" y2="245.40" stroke="#505050" stroke-width="1.25"/>
<text x="242.90" y="242.30" font-size="5.6" fill="#444"  textLength="18.0" lengthAdjust="spacingAndGlyphs" >p&lt;0.001</text>
<line x1="263.70" y1="234.40" x2="281.30" y2="234.40" stroke="#505050" stroke-width="1.25"/>
<text x="264.90" y="231.80" font-size="5.6" fill="#444"  textLength="15.6" lengthAdjust="spacingAndGlyphs" >p&lt;0.01</text>
<line x1="283.70" y1="226.40" x2="301.00" y2="226.40" stroke="#505050" stroke-width="1.25"/>
<text x="284.90" y="223.70" font-size="5.6" fill="#444"  textLength="15.6" lengthAdjust="spacingAndGlyphs" >p&lt;0.05</text>
<line x1="393.60" y1="187.80" x2="393.60" y2="269.40" stroke="#1e1e1e" stroke-width="1.2"/>
<line x1="390.90" y1="269.40" x2="393.60" y2="269.40" stroke="#1e1e1e" stroke-width="0.9"/>
<text x="387.60" y="271.40" font-size="5.7" fill="#1a1a1a" text-anchor="end" textLength="3.0" lengthAdjust="spacingAndGlyphs" stroke="#1a1a1a" stroke-width="0.1">0</text>
<line x1="390.90" y1="249.65" x2="393.60" y2="249.65" stroke="#1e1e1e" stroke-width="0.9"/>
<text x="387.60" y="251.65" font-size="5.7" fill="#1a1a1a" text-anchor="end" textLength="3.0" lengthAdjust="spacingAndGlyphs" stroke="#1a1a1a" stroke-width="0.1">1</text>
<line x1="390.90" y1="229.90" x2="393.60" y2="229.90" stroke="#1e1e1e" stroke-width="0.9"/>
<text x="387.60" y="231.90" font-size="5.7" fill="#1a1a1a" text-anchor="end" textLength="3.0" lengthAdjust="spacingAndGlyphs" stroke="#1a1a1a" stroke-width="0.1">2</text>
<line x1="390.90" y1="210.15" x2="393.60" y2="210.15" stroke="#1e1e1e" stroke-width="0.9"/>
<text x="387.60" y="212.15" font-size="5.7" fill="#1a1a1a" text-anchor="end" textLength="3.0" lengthAdjust="spacingAndGlyphs" stroke="#1a1a1a" stroke-width="0.1">3</text>
<line x1="390.90" y1="190.40" x2="393.60" y2="190.40" stroke="#1e1e1e" stroke-width="0.9"/>
<text x="387.60" y="192.40" font-size="5.7" fill="#1a1a1a" text-anchor="end" textLength="3.0" lengthAdjust="spacingAndGlyphs" stroke="#1a1a1a" stroke-width="0.1">4</text>
<text x="368.60" y="228.60" font-size="7.9" fill="#1a1a1a" text-anchor="middle" textLength="68.7" lengthAdjust="spacingAndGlyphs" transform="rotate(-90 368.6 228.6)" stroke="#1a1a1a" stroke-width="0.05">Hamp/Rpl19 mRNA</text>
<text x="378.30" y="228.60" font-size="7.9" fill="#1a1a1a" text-anchor="middle" textLength="55.3" lengthAdjust="spacingAndGlyphs" transform="rotate(-90 378.3 228.6)" stroke="#1a1a1a" stroke-width="0.05">(fold induction)</text>
<line x1="393.60" y1="269.40" x2="393.60" y2="304.20" stroke="#707070" stroke-width="1.2"/>
<line x1="412.60" y1="269.40" x2="412.60" y2="304.20" stroke="#707070" stroke-width="1.2"/>
<line x1="472.60" y1="269.40" x2="472.60" y2="304.20" stroke="#707070" stroke-width="1.2"/>
<line x1="513.60" y1="269.40" x2="513.60" y2="304.20" stroke="#707070" stroke-width="1.2"/>
<line x1="432.60" y1="286.60" x2="432.60" y2="303.60" stroke="#707070" stroke-width="1.2"/>
<line x1="452.60" y1="286.60" x2="452.60" y2="303.60" stroke="#707070" stroke-width="1.2"/>
<line x1="492.60" y1="286.60" x2="492.60" y2="303.60" stroke="#707070" stroke-width="1.2"/>
<line x1="412.60" y1="286.60" x2="513.60" y2="286.60" stroke="#707070" stroke-width="1.2"/>
<line x1="393.00" y1="303.60" x2="514.20" y2="303.60" stroke="#707070" stroke-width="1.2"/>
<text x="403.40" y="289.00" font-size="6.8" fill="#2a2a2a" text-anchor="middle" textLength="7.8" lengthAdjust="spacingAndGlyphs" >SD</text>
<text x="442.90" y="280.30" font-size="6.25" fill="#2a2a2a" text-anchor="middle" textLength="32.2" lengthAdjust="spacingAndGlyphs" >IDD (5 days)</text>
<text x="493.15" y="280.30" font-size="6.25" fill="#2a2a2a" text-anchor="middle" textLength="32.5" lengthAdjust="spacingAndGlyphs" >HID (7 days)</text>
<rect x="422.30" y="295.60" width="1.20" height="0.80" fill="#555"/>
<rect x="482.30" y="295.60" width="1.20" height="0.80" fill="#555"/>
<text x="442.90" y="293.30" font-size="5.9" fill="#2a2a2a" text-anchor="middle" textLength="13.6" lengthAdjust="spacingAndGlyphs" >+HID</text>
<text x="442.90" y="300.30" font-size="5.9" fill="#2a2a2a" text-anchor="middle" textLength="12.1" lengthAdjust="spacingAndGlyphs" >(3 h)</text>
<text x="462.90" y="293.30" font-size="5.9" fill="#2a2a2a" text-anchor="middle" textLength="13.6" lengthAdjust="spacingAndGlyphs" >+HID</text>
<text x="462.90" y="300.30" font-size="5.9" fill="#2a2a2a" text-anchor="middle" textLength="12.1" lengthAdjust="spacingAndGlyphs" >(6 h)</text>
<text x="503.15" y="293.30" font-size="5.9" fill="#2a2a2a" text-anchor="middle" textLength="13.8" lengthAdjust="spacingAndGlyphs" >+IDD</text>
<text x="503.15" y="300.30" font-size="5.9" fill="#2a2a2a" text-anchor="middle" textLength="15.6" lengthAdjust="spacingAndGlyphs" >(24 h)</text>
<line x1="398.82" y1="247.28" x2="398.82" y2="250.83" stroke="#4a4a4a" stroke-width="1.0"/>
<path d="M397.12 246.68 H400.52 L399.43 248.18 H398.22 Z" fill="#2a2a2a"/>
<rect x="396.45" y="250.83" width="4.75" height="18.56" fill="#a33447" stroke="#95223a" stroke-width="0.5"/>
<line x1="406.78" y1="246.88" x2="406.78" y2="250.24" stroke="#4a4a4a" stroke-width="1.0"/>
<path d="M405.08 246.28 H408.48 L407.38 247.78 H406.18 Z" fill="#2a2a2a"/>
<rect x="404.35" y="250.24" width="4.85" height="19.16" fill="#4f6689" stroke="#3a4f75" stroke-width="0.5"/>
<line x1="418.97" y1="240.96" x2="418.97" y2="246.88" stroke="#4a4a4a" stroke-width="1.0"/>
<path d="M417.27 240.36 H420.67 L419.57 241.86 H418.37 Z" fill="#2a2a2a"/>
<rect x="416.60" y="246.88" width="4.75" height="22.51" fill="#a33447" stroke="#95223a" stroke-width="0.5"/>
<line x1="426.93" y1="242.34" x2="426.93" y2="246.09" stroke="#4a4a4a" stroke-width="1.0"/>
<path d="M425.23 241.74 H428.62 L427.53 243.24 H426.32 Z" fill="#2a2a2a"/>
<rect x="424.50" y="246.09" width="4.85" height="23.30" fill="#4f6689" stroke="#3a4f75" stroke-width="0.5"/>
<line x1="439.12" y1="214.50" x2="439.12" y2="223.97" stroke="#4a4a4a" stroke-width="1.0"/>
<path d="M437.43 213.90 H440.82 L439.73 215.40 H438.52 Z" fill="#2a2a2a"/>
<rect x="436.75" y="223.97" width="4.75" height="45.42" fill="#a33447" stroke="#95223a" stroke-width="0.5"/>
<line x1="447.08" y1="200.08" x2="447.08" y2="205.41" stroke="#4a4a4a" stroke-width="1.0"/>
<path d="M445.38 199.48 H448.78 L447.68 200.98 H446.48 Z" fill="#2a2a2a"/>
<rect x="444.65" y="205.41" width="4.85" height="63.99" fill="#4f6689" stroke="#3a4f75" stroke-width="0.5"/>
<line x1="459.27" y1="218.44" x2="459.27" y2="223.38" stroke="#4a4a4a" stroke-width="1.0"/>
<path d="M457.57 217.84 H460.97 L459.88 219.34 H458.67 Z" fill="#2a2a2a"/>
<rect x="456.90" y="223.38" width="4.75" height="46.02" fill="#a33447" stroke="#95223a" stroke-width="0.5"/>
<line x1="467.23" y1="205.21" x2="467.23" y2="213.31" stroke="#4a4a4a" stroke-width="1.0"/>
<path d="M465.53 204.61 H468.93 L467.83 206.11 H466.62 Z" fill="#2a2a2a"/>
<rect x="464.80" y="213.31" width="4.85" height="56.09" fill="#4f6689" stroke="#3a4f75" stroke-width="0.5"/>
<line x1="479.43" y1="196.52" x2="479.43" y2="199.09" stroke="#4a4a4a" stroke-width="1.0"/>
<path d="M477.73 195.92 H481.12 L480.03 197.42 H478.82 Z" fill="#2a2a2a"/>
<rect x="477.05" y="199.09" width="4.75" height="70.31" fill="#a33447" stroke="#95223a" stroke-width="0.5"/>
<line x1="487.38" y1="197.51" x2="487.38" y2="200.87" stroke="#4a4a4a" stroke-width="1.0"/>
<path d="M485.68 196.91 H489.08 L487.98 198.41 H486.78 Z" fill="#2a2a2a"/>
<rect x="484.95" y="200.87" width="4.85" height="68.53" fill="#4f6689" stroke="#3a4f75" stroke-width="0.5"/>
<line x1="499.57" y1="235.03" x2="499.57" y2="239.38" stroke="#4a4a4a" stroke-width="1.0"/>
<path d="M497.88 234.44 H501.27 L500.18 235.94 H498.97 Z" fill="#2a2a2a"/>
<rect x="497.20" y="239.38" width="4.75" height="30.02" fill="#a33447" stroke="#95223a" stroke-width="0.5"/>
<line x1="507.53" y1="228.71" x2="507.53" y2="233.26" stroke="#4a4a4a" stroke-width="1.0"/>
<path d="M505.83 228.11 H509.23 L508.13 229.61 H506.93 Z" fill="#2a2a2a"/>
<rect x="505.10" y="233.26" width="4.85" height="36.14" fill="#4f6689" stroke="#3a4f75" stroke-width="0.5"/>
<line x1="390.90" y1="269.60" x2="514.20" y2="269.60" stroke="#1e1e1e" stroke-width="1.2"/>
<line x1="45.60" y1="340.90" x2="45.60" y2="422.90" stroke="#1e1e1e" stroke-width="1.2"/>
<line x1="42.60" y1="422.90" x2="45.60" y2="422.90" stroke="#1e1e1e" stroke-width="0.9"/>
<text x="39.30" y="424.90" font-size="5.7" fill="#1a1a1a" text-anchor="end" textLength="3.0" lengthAdjust="spacingAndGlyphs" stroke="#1a1a1a" stroke-width="0.1">0</text>
<line x1="42.60" y1="407.02" x2="45.60" y2="407.02" stroke="#1e1e1e" stroke-width="0.9"/>
<text x="39.30" y="409.02" font-size="5.7" fill="#1a1a1a" text-anchor="end" textLength="3.0" lengthAdjust="spacingAndGlyphs" stroke="#1a1a1a" stroke-width="0.1">1</text>
<line x1="42.60" y1="391.14" x2="45.60" y2="391.14" stroke="#1e1e1e" stroke-width="0.9"/>
<text x="39.30" y="393.14" font-size="5.7" fill="#1a1a1a" text-anchor="end" textLength="3.0" lengthAdjust="spacingAndGlyphs" stroke="#1a1a1a" stroke-width="0.1">2</text>
<line x1="42.60" y1="375.26" x2="45.60" y2="375.26" stroke="#1e1e1e" stroke-width="0.9"/>
<text x="39.30" y="377.26" font-size="5.7" fill="#1a1a1a" text-anchor="end" textLength="3.0" lengthAdjust="spacingAndGlyphs" stroke="#1a1a1a" stroke-width="0.1">3</text>
<line x1="42.60" y1="359.38" x2="45.60" y2="359.38" stroke="#1e1e1e" stroke-width="0.9"/>
<text x="39.30" y="361.38" font-size="5.7" fill="#1a1a1a" text-anchor="end" textLength="3.0" lengthAdjust="spacingAndGlyphs" stroke="#1a1a1a" stroke-width="0.1">4</text>
<line x1="42.60" y1="343.50" x2="45.60" y2="343.50" stroke="#1e1e1e" stroke-width="0.9"/>
<text x="39.30" y="345.50" font-size="5.7" fill="#1a1a1a" text-anchor="end" textLength="3.0" lengthAdjust="spacingAndGlyphs" stroke="#1a1a1a" stroke-width="0.1">5</text>
<text x="31.50" y="382.20" font-size="7.9" fill="#1a1a1a" text-anchor="middle" textLength="60" lengthAdjust="spacingAndGlyphs" transform="rotate(-90 31.5 382.2)" stroke="#1a1a1a" stroke-width="0.05">Hamp mRNA/LIC</text>
<line x1="45.60" y1="422.90" x2="45.60" y2="458.20" stroke="#707070" stroke-width="1.2"/>
<line x1="64.60" y1="422.90" x2="64.60" y2="458.20" stroke="#707070" stroke-width="1.2"/>
<line x1="125.60" y1="422.90" x2="125.60" y2="458.20" stroke="#707070" stroke-width="1.2"/>
<line x1="165.60" y1="422.90" x2="165.60" y2="458.20" stroke="#707070" stroke-width="1.2"/>
<line x1="84.60" y1="440.60" x2="84.60" y2="457.60" stroke="#707070" stroke-width="1.2"/>
<line x1="105.60" y1="440.60" x2="105.60" y2="457.60" stroke="#707070" stroke-width="1.2"/>
<line x1="145.60" y1="440.60" x2="145.60" y2="457.60" stroke="#707070" stroke-width="1.2"/>
<line x1="64.60" y1="440.60" x2="165.60" y2="440.60" stroke="#707070" stroke-width="1.2"/>
<line x1="45.00" y1="457.60" x2="166.20" y2="457.60" stroke="#707070" stroke-width="1.2"/>
<text x="55.10" y="442.50" font-size="6.8" fill="#2a2a2a" text-anchor="middle" textLength="7.8" lengthAdjust="spacingAndGlyphs" >SD</text>
<text x="94.85" y="433.80" font-size="6.25" fill="#2a2a2a" text-anchor="middle" textLength="32.2" lengthAdjust="spacingAndGlyphs" >IDD (5 days)</text>
<text x="145.10" y="433.80" font-size="6.25" fill="#2a2a2a" text-anchor="middle" textLength="32.5" lengthAdjust="spacingAndGlyphs" >HID (7 days)</text>
<rect x="74.00" y="449.10" width="1.20" height="0.80" fill="#555"/>
<rect x="134.50" y="449.10" width="1.20" height="0.80" fill="#555"/>
<text x="94.85" y="446.80" font-size="5.9" fill="#2a2a2a" text-anchor="middle" textLength="13.6" lengthAdjust="spacingAndGlyphs" >+HID</text>
<text x="94.85" y="453.80" font-size="5.9" fill="#2a2a2a" text-anchor="middle" textLength="12.1" lengthAdjust="spacingAndGlyphs" >(3 h)</text>
<text x="115.10" y="446.80" font-size="5.9" fill="#2a2a2a" text-anchor="middle" textLength="13.6" lengthAdjust="spacingAndGlyphs" >+HID</text>
<text x="115.10" y="453.80" font-size="5.9" fill="#2a2a2a" text-anchor="middle" textLength="12.1" lengthAdjust="spacingAndGlyphs" >(6 h)</text>
<text x="155.10" y="446.80" font-size="5.9" fill="#2a2a2a" text-anchor="middle" textLength="13.8" lengthAdjust="spacingAndGlyphs" >+IDD</text>
<text x="155.10" y="453.80" font-size="5.9" fill="#2a2a2a" text-anchor="middle" textLength="15.6" lengthAdjust="spacingAndGlyphs" >(24 h)</text>
<line x1="50.53" y1="404.16" x2="50.53" y2="406.86" stroke="#4a4a4a" stroke-width="1.0"/>
<path d="M48.83 403.56 H52.23 L51.13 405.06 H49.93 Z" fill="#2a2a2a"/>
<rect x="48.15" y="406.86" width="4.75" height="16.04" fill="#a33447" stroke="#95223a" stroke-width="0.5"/>
<line x1="58.48" y1="389.08" x2="58.48" y2="394.00" stroke="#4a4a4a" stroke-width="1.0"/>
<path d="M56.77 388.48 H60.18 L59.08 389.98 H57.88 Z" fill="#2a2a2a"/>
<rect x="56.05" y="394.00" width="4.85" height="28.90" fill="#4f6689" stroke="#3a4f75" stroke-width="0.5"/>
<line x1="70.67" y1="403.84" x2="70.67" y2="407.81" stroke="#4a4a4a" stroke-width="1.0"/>
<path d="M68.97 403.24 H72.38 L71.27 404.74 H70.08 Z" fill="#2a2a2a"/>
<rect x="68.30" y="407.81" width="4.75" height="15.09" fill="#a33447" stroke="#95223a" stroke-width="0.5"/>
<line x1="78.62" y1="395.11" x2="78.62" y2="399.72" stroke="#4a4a4a" stroke-width="1.0"/>
<path d="M76.92 394.51 H80.32 L79.22 396.01 H78.02 Z" fill="#2a2a2a"/>
<rect x="76.20" y="399.72" width="4.85" height="23.18" fill="#4f6689" stroke="#3a4f75" stroke-width="0.5"/>
<line x1="90.83" y1="394.16" x2="90.83" y2="399.56" stroke="#4a4a4a" stroke-width="1.0"/>
<path d="M89.12 393.56 H92.53 L91.42 395.06 H90.23 Z" fill="#2a2a2a"/>
<rect x="88.45" y="399.56" width="4.75" height="23.34" fill="#a33447" stroke="#95223a" stroke-width="0.5"/>
<line x1="98.77" y1="358.11" x2="98.77" y2="364.30" stroke="#4a4a4a" stroke-width="1.0"/>
<path d="M97.07 357.51 H100.47 L99.37 359.01 H98.17 Z" fill="#2a2a2a"/>
<rect x="96.35" y="364.30" width="4.85" height="58.60" fill="#4f6689" stroke="#3a4f75" stroke-width="0.5"/>
<line x1="110.98" y1="403.37" x2="110.98" y2="405.43" stroke="#4a4a4a" stroke-width="1.0"/>
<path d="M109.28 402.77 H112.68 L111.58 404.27 H110.38 Z" fill="#2a2a2a"/>
<rect x="108.60" y="405.43" width="4.75" height="17.47" fill="#a33447" stroke="#95223a" stroke-width="0.5"/>
<line x1="118.92" y1="383.52" x2="118.92" y2="389.87" stroke="#4a4a4a" stroke-width="1.0"/>
<path d="M117.22 382.92 H120.62 L119.52 384.42 H118.33 Z" fill="#2a2a2a"/>
<rect x="116.50" y="389.87" width="4.85" height="33.03" fill="#4f6689" stroke="#3a4f75" stroke-width="0.5"/>
<line x1="131.12" y1="415.12" x2="131.12" y2="416.55" stroke="#4a4a4a" stroke-width="1.0"/>
<path d="M129.43 414.52 H132.82 L131.72 416.02 H130.53 Z" fill="#2a2a2a"/>
<rect x="128.75" y="416.55" width="4.75" height="6.35" fill="#a33447" stroke="#95223a" stroke-width="0.5"/>
<line x1="139.08" y1="413.05" x2="139.08" y2="414.96" stroke="#4a4a4a" stroke-width="1.0"/>
<path d="M137.38 412.45 H140.78 L139.68 413.95 H138.48 Z" fill="#2a2a2a"/>
<rect x="136.65" y="414.96" width="4.85" height="7.94" fill="#4f6689" stroke="#3a4f75" stroke-width="0.5"/>
<line x1="151.27" y1="405.11" x2="151.27" y2="407.18" stroke="#4a4a4a" stroke-width="1.0"/>
<path d="M149.57 404.51 H152.97 L151.87 406.01 H150.67 Z" fill="#2a2a2a"/>
<rect x="148.90" y="407.18" width="4.75" height="15.72" fill="#a33447" stroke="#95223a" stroke-width="0.5"/>
<line x1="159.22" y1="405.59" x2="159.22" y2="407.66" stroke="#4a4a4a" stroke-width="1.0"/>
<path d="M157.53 404.99 H160.92 L159.82 406.49 H158.62 Z" fill="#2a2a2a"/>
<rect x="156.80" y="407.66" width="4.85" height="15.24" fill="#4f6689" stroke="#3a4f75" stroke-width="0.5"/>
<line x1="42.60" y1="422.60" x2="166.20" y2="422.60" stroke="#1e1e1e" stroke-width="1.2"/>
<line x1="48.80" y1="386.40" x2="66.10" y2="386.40" stroke="#505050" stroke-width="1.25"/>
<text x="50.00" y="384.20" font-size="5.6" fill="#444"  textLength="15.6" lengthAdjust="spacingAndGlyphs" >p&lt;0.05</text>
<line x1="84.90" y1="355.40" x2="102.00" y2="355.40" stroke="#505050" stroke-width="1.25"/>
<text x="86.10" y="353.00" font-size="5.6" fill="#444"  textLength="18.0" lengthAdjust="spacingAndGlyphs" >p&lt;0.001</text>
<line x1="105.90" y1="381.40" x2="123.50" y2="381.40" stroke="#505050" stroke-width="1.25"/>
<text x="107.10" y="378.80" font-size="5.6" fill="#444"  textLength="15.6" lengthAdjust="spacingAndGlyphs" >p&lt;0.05</text>
<line x1="220.60" y1="340.90" x2="220.60" y2="422.90" stroke="#1e1e1e" stroke-width="1.2"/>
<line x1="217.60" y1="422.90" x2="220.60" y2="422.90" stroke="#1e1e1e" stroke-width="0.9"/>
<text x="214.30" y="424.90" font-size="5.7" fill="#1a1a1a" text-anchor="end" textLength="3.0" lengthAdjust="spacingAndGlyphs" stroke="#1a1a1a" stroke-width="0.1">0</text>
<line x1="217.60" y1="407.02" x2="220.60" y2="407.02" stroke="#1e1e1e" stroke-width="0.9"/>
<text x="214.30" y="409.02" font-size="5.7" fill="#1a1a1a" text-anchor="end" textLength="3.0" lengthAdjust="spacingAndGlyphs" stroke="#1a1a1a" stroke-width="0.1">2</text>
<line x1="217.60" y1="391.14" x2="220.60" y2="391.14" stroke="#1e1e1e" stroke-width="0.9"/>
<text x="214.30" y="393.14" font-size="5.7" fill="#1a1a1a" text-anchor="end" textLength="3.0" lengthAdjust="spacingAndGlyphs" stroke="#1a1a1a" stroke-width="0.1">4</text>
<line x1="217.60" y1="375.26" x2="220.60" y2="375.26" stroke="#1e1e1e" stroke-width="0.9"/>
<text x="214.30" y="377.26" font-size="5.7" fill="#1a1a1a" text-anchor="end" textLength="3.0" lengthAdjust="spacingAndGlyphs" stroke="#1a1a1a" stroke-width="0.1">6</text>
<line x1="217.60" y1="359.38" x2="220.60" y2="359.38" stroke="#1e1e1e" stroke-width="0.9"/>
<text x="214.30" y="361.38" font-size="5.7" fill="#1a1a1a" text-anchor="end" textLength="3.0" lengthAdjust="spacingAndGlyphs" stroke="#1a1a1a" stroke-width="0.1">8</text>
<line x1="217.60" y1="343.50" x2="220.60" y2="343.50" stroke="#1e1e1e" stroke-width="0.9"/>
<text x="214.30" y="345.50" font-size="5.7" fill="#1a1a1a" text-anchor="end" textLength="6.0" lengthAdjust="spacingAndGlyphs" stroke="#1a1a1a" stroke-width="0.1">10</text>
<text x="192.60" y="382.00" font-size="7.9" fill="#1a1a1a" text-anchor="middle" textLength="61" lengthAdjust="spacingAndGlyphs" transform="rotate(-90 192.6 382.0)" stroke="#1a1a1a" stroke-width="0.05">Tfr1/Rpl19 mRNA</text>
<text x="201.05" y="381.20" font-size="7.9" fill="#1a1a1a" text-anchor="middle" textLength="55.4" lengthAdjust="spacingAndGlyphs" transform="rotate(-90 201.05 381.2)" stroke="#1a1a1a" stroke-width="0.05">(fold induction)</text>
<line x1="220.60" y1="422.90" x2="220.60" y2="458.20" stroke="#707070" stroke-width="1.2"/>
<line x1="239.60" y1="422.90" x2="239.60" y2="458.20" stroke="#707070" stroke-width="1.2"/>
<line x1="299.60" y1="422.90" x2="299.60" y2="458.20" stroke="#707070" stroke-width="1.2"/>
<line x1="340.60" y1="422.90" x2="340.60" y2="458.20" stroke="#707070" stroke-width="1.2"/>
<line x1="259.60" y1="440.60" x2="259.60" y2="457.60" stroke="#707070" stroke-width="1.2"/>
<line x1="279.60" y1="440.60" x2="279.60" y2="457.60" stroke="#707070" stroke-width="1.2"/>
<line x1="319.60" y1="440.60" x2="319.60" y2="457.60" stroke="#707070" stroke-width="1.2"/>
<line x1="239.60" y1="440.60" x2="340.60" y2="440.60" stroke="#707070" stroke-width="1.2"/>
<line x1="220.00" y1="457.60" x2="341.20" y2="457.60" stroke="#707070" stroke-width="1.2"/>
<text x="230.10" y="442.50" font-size="6.8" fill="#2a2a2a" text-anchor="middle" textLength="7.8" lengthAdjust="spacingAndGlyphs" >SD</text>
<text x="269.60" y="433.80" font-size="6.25" fill="#2a2a2a" text-anchor="middle" textLength="32.2" lengthAdjust="spacingAndGlyphs" >IDD (5 days)</text>
<text x="319.85" y="433.80" font-size="6.25" fill="#2a2a2a" text-anchor="middle" textLength="32.5" lengthAdjust="spacingAndGlyphs" >HID (7 days)</text>
<rect x="249.00" y="449.10" width="1.20" height="0.80" fill="#555"/>
<rect x="309.00" y="449.10" width="1.20" height="0.80" fill="#555"/>
<text x="269.60" y="446.80" font-size="5.9" fill="#2a2a2a" text-anchor="middle" textLength="13.6" lengthAdjust="spacingAndGlyphs" >+HID</text>
<text x="269.60" y="453.80" font-size="5.9" fill="#2a2a2a" text-anchor="middle" textLength="12.1" lengthAdjust="spacingAndGlyphs" >(3 h)</text>
<text x="289.60" y="446.80" font-size="5.9" fill="#2a2a2a" text-anchor="middle" textLength="13.6" lengthAdjust="spacingAndGlyphs" >+HID</text>
<text x="289.60" y="453.80" font-size="5.9" fill="#2a2a2a" text-anchor="middle" textLength="12.1" lengthAdjust="spacingAndGlyphs" >(6 h)</text>
<text x="329.85" y="446.80" font-size="5.9" fill="#2a2a2a" text-anchor="middle" textLength="13.8" lengthAdjust="spacingAndGlyphs" >+IDD</text>
<text x="329.85" y="453.80" font-size="5.9" fill="#2a2a2a" text-anchor="middle" textLength="15.6" lengthAdjust="spacingAndGlyphs" >(24 h)</text>
<line x1="225.52" y1="413.21" x2="225.52" y2="414.96" stroke="#4a4a4a" stroke-width="1.0"/>
<path d="M223.82 412.61 H227.22 L226.12 414.11 H224.92 Z" fill="#2a2a2a"/>
<rect x="223.15" y="414.96" width="4.75" height="7.94" fill="#a33447" stroke="#95223a" stroke-width="0.5"/>
<line x1="233.47" y1="422.50" x2="233.47" y2="422.90" stroke="#4a4a4a" stroke-width="1.0"/>
<path d="M231.78 421.90 H235.17 L234.07 423.40 H232.88 Z" fill="#2a2a2a"/>
<line x1="245.67" y1="359.06" x2="245.67" y2="366.53" stroke="#4a4a4a" stroke-width="1.0"/>
<path d="M243.97 358.46 H247.37 L246.27 359.96 H245.07 Z" fill="#2a2a2a"/>
<rect x="243.30" y="366.53" width="4.75" height="56.37" fill="#a33447" stroke="#95223a" stroke-width="0.5"/>
<line x1="253.62" y1="422.50" x2="253.62" y2="422.90" stroke="#4a4a4a" stroke-width="1.0"/>
<path d="M251.93 421.90 H255.32 L254.22 423.40 H253.03 Z" fill="#2a2a2a"/>
<line x1="265.82" y1="359.06" x2="265.82" y2="372.96" stroke="#4a4a4a" stroke-width="1.0"/>
<path d="M264.12 358.46 H267.52 L266.43 359.96 H265.22 Z" fill="#2a2a2a"/>
<rect x="263.45" y="372.96" width="4.75" height="49.94" fill="#a33447" stroke="#95223a" stroke-width="0.5"/>
<line x1="273.78" y1="422.50" x2="273.78" y2="422.90" stroke="#4a4a4a" stroke-width="1.0"/>
<path d="M272.08 421.90 H275.48 L274.38 423.40 H273.18 Z" fill="#2a2a2a"/>
<line x1="285.97" y1="415.28" x2="285.97" y2="417.18" stroke="#4a4a4a" stroke-width="1.0"/>
<path d="M284.27 414.68 H287.67 L286.57 416.18 H285.37 Z" fill="#2a2a2a"/>
<rect x="283.60" y="417.18" width="4.75" height="5.72" fill="#a33447" stroke="#95223a" stroke-width="0.5"/>
<line x1="293.93" y1="422.50" x2="293.93" y2="422.90" stroke="#4a4a4a" stroke-width="1.0"/>
<path d="M292.23 421.90 H295.62 L294.53 423.40 H293.32 Z" fill="#2a2a2a"/>
<line x1="306.12" y1="419.01" x2="306.12" y2="419.80" stroke="#4a4a4a" stroke-width="1.0"/>
<path d="M304.42 418.41 H307.82 L306.72 419.91 H305.52 Z" fill="#2a2a2a"/>
<rect x="303.75" y="419.80" width="4.75" height="3.10" fill="#a33447" stroke="#95223a" stroke-width="0.5"/>
<line x1="314.07" y1="422.50" x2="314.07" y2="422.90" stroke="#4a4a4a" stroke-width="1.0"/>
<path d="M312.38 421.90 H315.77 L314.68 423.40 H313.47 Z" fill="#2a2a2a"/>
<line x1="326.27" y1="413.13" x2="326.27" y2="414.01" stroke="#4a4a4a" stroke-width="1.0"/>
<path d="M324.57 412.53 H327.97 L326.88 414.03 H325.67 Z" fill="#2a2a2a"/>
<rect x="323.90" y="414.01" width="4.75" height="8.89" fill="#a33447" stroke="#95223a" stroke-width="0.5"/>
<line x1="334.23" y1="422.50" x2="334.23" y2="422.90" stroke="#4a4a4a" stroke-width="1.0"/>
<path d="M332.53 421.90 H335.93 L334.83 423.40 H333.62 Z" fill="#2a2a2a"/>
<line x1="217.60" y1="422.60" x2="341.20" y2="422.60" stroke="#1e1e1e" stroke-width="1.2"/>
<line x1="222.10" y1="408.40" x2="239.00" y2="408.40" stroke="#505050" stroke-width="1.25"/>
<text x="223.30" y="405.30" font-size="5.6" fill="#444"  textLength="15.6" lengthAdjust="spacingAndGlyphs" >p&lt;0.01</text>
<line x1="239.00" y1="356.40" x2="256.00" y2="356.40" stroke="#505050" stroke-width="1.25"/>
<text x="240.20" y="353.40" font-size="5.6" fill="#444"  textLength="18.0" lengthAdjust="spacingAndGlyphs" >p&lt;0.001</text>
<line x1="263.20" y1="356.40" x2="280.50" y2="356.40" stroke="#505050" stroke-width="1.25"/>
<text x="264.40" y="353.40" font-size="5.6" fill="#444"  textLength="18.0" lengthAdjust="spacingAndGlyphs" >p&lt;0.001</text>
<line x1="283.00" y1="412.40" x2="300.00" y2="412.40" stroke="#505050" stroke-width="1.25"/>
<text x="284.20" y="410.00" font-size="5.6" fill="#444"  textLength="15.6" lengthAdjust="spacingAndGlyphs" >p&lt;0.01</text>
<line x1="303.20" y1="416.40" x2="320.50" y2="416.40" stroke="#505050" stroke-width="1.25"/>
<text x="304.40" y="413.80" font-size="5.6" fill="#444"  textLength="15.6" lengthAdjust="spacingAndGlyphs" >p&lt;0.05</text>
<line x1="326.00" y1="409.40" x2="342.90" y2="409.40" stroke="#505050" stroke-width="1.25"/>
<text x="327.20" y="406.80" font-size="5.6" fill="#444"  textLength="15.6" lengthAdjust="spacingAndGlyphs" >p&lt;0.01</text>
<line x1="393.60" y1="332.50" x2="393.60" y2="422.60" stroke="#1e1e1e" stroke-width="1.2"/>
<line x1="390.60" y1="422.60" x2="393.60" y2="422.60" stroke="#1e1e1e" stroke-width="0.9"/>
<text x="387.30" y="424.60" font-size="5.7" fill="#1a1a1a" text-anchor="end" textLength="3.0" lengthAdjust="spacingAndGlyphs" stroke="#1a1a1a" stroke-width="0.1">0</text>
<line x1="390.60" y1="393.43" x2="393.60" y2="393.43" stroke="#1e1e1e" stroke-width="0.9"/>
<text x="387.30" y="395.43" font-size="5.7" fill="#1a1a1a" text-anchor="end" textLength="3.0" lengthAdjust="spacingAndGlyphs" stroke="#1a1a1a" stroke-width="0.1">1</text>
<line x1="390.60" y1="364.27" x2="393.60" y2="364.27" stroke="#1e1e1e" stroke-width="0.9"/>
<text x="387.30" y="366.27" font-size="5.7" fill="#1a1a1a" text-anchor="end" textLength="3.0" lengthAdjust="spacingAndGlyphs" stroke="#1a1a1a" stroke-width="0.1">2</text>
<line x1="390.60" y1="335.10" x2="393.60" y2="335.10" stroke="#1e1e1e" stroke-width="0.9"/>
<text x="387.30" y="337.10" font-size="5.7" fill="#1a1a1a" text-anchor="end" textLength="3.0" lengthAdjust="spacingAndGlyphs" stroke="#1a1a1a" stroke-width="0.1">3</text>
<text x="369.50" y="380.80" font-size="7.9" fill="#1a1a1a" text-anchor="middle" textLength="68" lengthAdjust="spacingAndGlyphs" transform="rotate(-90 369.5 380.8)" stroke="#1a1a1a" stroke-width="0.05">Bmp6/Rpl19 mRNA</text>
<text x="379.20" y="381.60" font-size="7.9" fill="#1a1a1a" text-anchor="middle" textLength="54.6" lengthAdjust="spacingAndGlyphs" transform="rotate(-90 379.2 381.6)" stroke="#1a1a1a" stroke-width="0.05">(fold induction)</text>
<line x1="393.60" y1="422.60" x2="393.60" y2="457.20" stroke="#707070" stroke-width="1.2"/>
<line x1="412.60" y1="422.60" x2="412.60" y2="457.20" stroke="#707070" stroke-width="1.2"/>
<line x1="473.60" y1="422.60" x2="473.60" y2="457.20" stroke="#707070" stroke-width="1.2"/>
<line x1="513.60" y1="422.60" x2="513.60" y2="457.20" stroke="#707070" stroke-width="1.2"/>
<line x1="432.60" y1="439.60" x2="432.60" y2="456.60" stroke="#707070" stroke-width="1.2"/>
<line x1="452.60" y1="439.60" x2="452.60" y2="456.60" stroke="#707070" stroke-width="1.2"/>
<line x1="493.60" y1="439.60" x2="493.60" y2="456.60" stroke="#707070" stroke-width="1.2"/>
<line x1="412.60" y1="439.60" x2="513.60" y2="439.60" stroke="#707070" stroke-width="1.2"/>
<line x1="393.00" y1="456.60" x2="514.20" y2="456.60" stroke="#707070" stroke-width="1.2"/>
<text x="403.00" y="442.20" font-size="6.8" fill="#2a2a2a" text-anchor="middle" textLength="7.8" lengthAdjust="spacingAndGlyphs" >SD</text>
<text x="442.70" y="433.50" font-size="6.25" fill="#2a2a2a" text-anchor="middle" textLength="32.2" lengthAdjust="spacingAndGlyphs" >IDD (5 days)</text>
<text x="493.45" y="433.50" font-size="6.25" fill="#2a2a2a" text-anchor="middle" textLength="32.5" lengthAdjust="spacingAndGlyphs" >HID (7 days)</text>
<rect x="421.90" y="448.80" width="1.20" height="0.80" fill="#555"/>
<rect x="482.45" y="448.80" width="1.20" height="0.80" fill="#555"/>
<text x="442.70" y="446.50" font-size="5.9" fill="#2a2a2a" text-anchor="middle" textLength="13.6" lengthAdjust="spacingAndGlyphs" >+HID</text>
<text x="442.70" y="453.50" font-size="5.9" fill="#2a2a2a" text-anchor="middle" textLength="12.1" lengthAdjust="spacingAndGlyphs" >(3 h)</text>
<text x="462.90" y="446.50" font-size="5.9" fill="#2a2a2a" text-anchor="middle" textLength="13.6" lengthAdjust="spacingAndGlyphs" >+HID</text>
<text x="462.90" y="453.50" font-size="5.9" fill="#2a2a2a" text-anchor="middle" textLength="12.1" lengthAdjust="spacingAndGlyphs" >(6 h)</text>
<text x="503.50" y="446.50" font-size="5.9" fill="#2a2a2a" text-anchor="middle" textLength="13.8" lengthAdjust="spacingAndGlyphs" >+IDD</text>
<text x="503.50" y="453.50" font-size="5.9" fill="#2a2a2a" text-anchor="middle" textLength="15.6" lengthAdjust="spacingAndGlyphs" >(24 h)</text>
<line x1="398.48" y1="391.39" x2="398.48" y2="393.73" stroke="#4a4a4a" stroke-width="1.0"/>
<path d="M396.78 390.79 H400.18 L399.08 392.29 H397.88 Z" fill="#2a2a2a"/>
<rect x="396.10" y="393.73" width="4.75" height="28.88" fill="#a33447" stroke="#95223a" stroke-width="0.5"/>
<line x1="406.43" y1="392.85" x2="406.43" y2="395.77" stroke="#4a4a4a" stroke-width="1.0"/>
<path d="M404.73 392.25 H408.13 L407.03 393.75 H405.83 Z" fill="#2a2a2a"/>
<rect x="404.00" y="395.77" width="4.85" height="26.83" fill="#4f6689" stroke="#3a4f75" stroke-width="0.5"/>
<line x1="419.08" y1="386.43" x2="419.08" y2="389.64" stroke="#4a4a4a" stroke-width="1.0"/>
<path d="M417.38 385.83 H420.78 L419.68 387.33 H418.48 Z" fill="#2a2a2a"/>
<rect x="416.70" y="389.64" width="4.75" height="32.96" fill="#a33447" stroke="#95223a" stroke-width="0.5"/>
<line x1="427.03" y1="393.14" x2="427.03" y2="396.64" stroke="#4a4a4a" stroke-width="1.0"/>
<path d="M425.33 392.54 H428.73 L427.63 394.04 H426.43 Z" fill="#2a2a2a"/>
<rect x="424.60" y="396.64" width="4.85" height="25.96" fill="#4f6689" stroke="#3a4f75" stroke-width="0.5"/>
<line x1="439.68" y1="396.93" x2="439.68" y2="401.60" stroke="#4a4a4a" stroke-width="1.0"/>
<path d="M437.98 396.33 H441.38 L440.28 397.83 H439.07 Z" fill="#2a2a2a"/>
<rect x="437.30" y="401.60" width="4.75" height="21.00" fill="#a33447" stroke="#95223a" stroke-width="0.5"/>
<line x1="447.63" y1="396.93" x2="447.63" y2="400.73" stroke="#4a4a4a" stroke-width="1.0"/>
<path d="M445.93 396.33 H449.33 L448.23 397.83 H447.03 Z" fill="#2a2a2a"/>
<rect x="445.20" y="400.73" width="4.85" height="21.88" fill="#4f6689" stroke="#3a4f75" stroke-width="0.5"/>
<line x1="460.28" y1="375.35" x2="460.28" y2="379.73" stroke="#4a4a4a" stroke-width="1.0"/>
<path d="M458.58 374.75 H461.98 L460.88 376.25 H459.68 Z" fill="#2a2a2a"/>
<rect x="457.90" y="379.73" width="4.75" height="42.88" fill="#a33447" stroke="#95223a" stroke-width="0.5"/>
<line x1="468.23" y1="385.27" x2="468.23" y2="389.64" stroke="#4a4a4a" stroke-width="1.0"/>
<path d="M466.53 384.67 H469.93 L468.83 386.17 H467.63 Z" fill="#2a2a2a"/>
<rect x="465.80" y="389.64" width="4.85" height="32.96" fill="#4f6689" stroke="#3a4f75" stroke-width="0.5"/>
<line x1="480.88" y1="370.68" x2="480.88" y2="374.48" stroke="#4a4a4a" stroke-width="1.0"/>
<path d="M479.18 370.08 H482.58 L481.48 371.58 H480.28 Z" fill="#2a2a2a"/>
<rect x="478.50" y="374.48" width="4.75" height="48.12" fill="#a33447" stroke="#95223a" stroke-width="0.5"/>
<line x1="488.83" y1="347.93" x2="488.83" y2="361.64" stroke="#4a4a4a" stroke-width="1.0"/>
<path d="M487.13 347.33 H490.53 L489.43 348.83 H488.23 Z" fill="#2a2a2a"/>
<rect x="486.40" y="361.64" width="4.85" height="60.96" fill="#4f6689" stroke="#3a4f75" stroke-width="0.5"/>
<line x1="501.48" y1="382.06" x2="501.48" y2="386.73" stroke="#4a4a4a" stroke-width="1.0"/>
<path d="M499.78 381.46 H503.18 L502.08 382.96 H500.88 Z" fill="#2a2a2a"/>
<rect x="499.10" y="386.73" width="4.75" height="35.88" fill="#a33447" stroke="#95223a" stroke-width="0.5"/>
<line x1="509.43" y1="384.39" x2="509.43" y2="388.48" stroke="#4a4a4a" stroke-width="1.0"/>
<path d="M507.73 383.79 H511.13 L510.03 385.29 H508.83 Z" fill="#2a2a2a"/>
<rect x="507.00" y="388.48" width="4.85" height="34.12" fill="#4f6689" stroke="#3a4f75" stroke-width="0.5"/>
<line x1="390.60" y1="422.60" x2="514.20" y2="422.60" stroke="#1e1e1e" stroke-width="1.2"/>
<line x1="70.60" y1="485.00" x2="70.60" y2="529.20" stroke="#707070" stroke-width="1.2"/>
<line x1="183.60" y1="485.00" x2="183.60" y2="529.20" stroke="#707070" stroke-width="1.2"/>
<line x1="90.60" y1="485.60" x2="90.60" y2="528.60" stroke="#707070" stroke-width="1.2"/>
<line x1="145.60" y1="496.60" x2="145.60" y2="528.60" stroke="#707070" stroke-width="1.2"/>
<line x1="109.60" y1="509.60" x2="109.60" y2="528.60" stroke="#707070" stroke-width="1.2"/>
<line x1="127.60" y1="509.60" x2="127.60" y2="528.60" stroke="#707070" stroke-width="1.2"/>
<line x1="162.60" y1="509.60" x2="162.60" y2="528.60" stroke="#707070" stroke-width="1.2"/>
<line x1="70.00" y1="485.60" x2="184.20" y2="485.60" stroke="#707070" stroke-width="1.2"/>
<line x1="70.60" y1="496.60" x2="183.60" y2="496.60" stroke="#707070" stroke-width="1.2"/>
<line x1="90.60" y1="509.60" x2="183.60" y2="509.60" stroke="#707070" stroke-width="1.2"/>
<line x1="70.00" y1="528.60" x2="184.20" y2="528.60" stroke="#707070" stroke-width="1.2"/>
<text x="80.60" y="515.10" font-size="6.6" fill="#2a2a2a" text-anchor="middle" textLength="7.8" lengthAdjust="spacingAndGlyphs" >SD</text>
<text x="129.40" y="493.40" font-size="5.9" fill="#2a2a2a"  textLength="9.6" lengthAdjust="spacingAndGlyphs" >Tfrc</text>
<text x="139.40" y="490.00" font-size="3.6" fill="#666"  textLength="5.0" lengthAdjust="spacingAndGlyphs" >fl/fl</text>
<text x="118.00" y="505.40" font-size="6.1" fill="#2a2a2a" text-anchor="middle" textLength="31.0" lengthAdjust="spacingAndGlyphs" >IDD (5 days)</text>
<text x="164.45" y="505.40" font-size="6.1" fill="#2a2a2a" text-anchor="middle" textLength="31.5" lengthAdjust="spacingAndGlyphs" >HID (7 days)</text>
<rect x="99.50" y="518.60" width="1.20" height="0.80" fill="#666"/>
<rect x="153.35" y="518.60" width="1.20" height="0.80" fill="#666"/>
<text x="118.30" y="517.00" font-size="5.8" fill="#2a2a2a" text-anchor="middle" textLength="13.0" lengthAdjust="spacingAndGlyphs" >+HID</text>
<text x="118.30" y="524.20" font-size="5.8" fill="#2a2a2a" text-anchor="middle" textLength="11.6" lengthAdjust="spacingAndGlyphs" >(3 h)</text>
<text x="136.20" y="517.00" font-size="5.8" fill="#2a2a2a" text-anchor="middle" textLength="13.0" lengthAdjust="spacingAndGlyphs" >+HID</text>
<text x="136.20" y="524.20" font-size="5.8" fill="#2a2a2a" text-anchor="middle" textLength="11.6" lengthAdjust="spacingAndGlyphs" >(6 h)</text>
<text x="173.00" y="517.00" font-size="5.8" fill="#2a2a2a" text-anchor="middle" textLength="13.2" lengthAdjust="spacingAndGlyphs" >+IDD</text>
<text x="173.00" y="524.20" font-size="5.8" fill="#2a2a2a" text-anchor="middle" textLength="15.0" lengthAdjust="spacingAndGlyphs" >(24 h)</text>
<line x1="189.60" y1="485.00" x2="189.60" y2="529.20" stroke="#707070" stroke-width="1.2"/>
<line x1="302.60" y1="485.00" x2="302.60" y2="529.20" stroke="#707070" stroke-width="1.2"/>
<line x1="209.60" y1="485.60" x2="209.60" y2="528.60" stroke="#707070" stroke-width="1.2"/>
<line x1="263.60" y1="496.60" x2="263.60" y2="528.60" stroke="#707070" stroke-width="1.2"/>
<line x1="226.60" y1="509.60" x2="226.60" y2="528.60" stroke="#707070" stroke-width="1.2"/>
<line x1="244.60" y1="509.60" x2="244.60" y2="528.60" stroke="#707070" stroke-width="1.2"/>
<line x1="280.60" y1="509.60" x2="280.60" y2="528.60" stroke="#707070" stroke-width="1.2"/>
<line x1="189.00" y1="485.60" x2="303.20" y2="485.60" stroke="#707070" stroke-width="1.2"/>
<line x1="189.60" y1="496.60" x2="302.60" y2="496.60" stroke="#707070" stroke-width="1.2"/>
<line x1="209.60" y1="509.60" x2="302.60" y2="509.60" stroke="#707070" stroke-width="1.2"/>
<line x1="189.00" y1="528.60" x2="303.20" y2="528.60" stroke="#707070" stroke-width="1.2"/>
<text x="199.38" y="515.10" font-size="6.6" fill="#2a2a2a" text-anchor="middle" textLength="7.8" lengthAdjust="spacingAndGlyphs" >SD</text>
<text x="244.20" y="493.40" font-size="5.9" fill="#2a2a2a"  textLength="9.6" lengthAdjust="spacingAndGlyphs" >Tfrc</text>
<text x="254.40" y="490.00" font-size="3.6" fill="#666"  textLength="13.4" lengthAdjust="spacingAndGlyphs" >Alb-Cre</text>
<text x="236.50" y="505.40" font-size="6.1" fill="#2a2a2a" text-anchor="middle" textLength="31.0" lengthAdjust="spacingAndGlyphs" >IDD (5 days)</text>
<text x="282.88" y="505.40" font-size="6.1" fill="#2a2a2a" text-anchor="middle" textLength="31.5" lengthAdjust="spacingAndGlyphs" >HID (7 days)</text>
<rect x="217.15" y="518.60" width="1.20" height="0.80" fill="#666"/>
<rect x="271.52" y="518.60" width="1.20" height="0.80" fill="#666"/>
<text x="235.25" y="517.00" font-size="5.8" fill="#2a2a2a" text-anchor="middle" textLength="13.0" lengthAdjust="spacingAndGlyphs" >+HID</text>
<text x="235.25" y="524.20" font-size="5.8" fill="#2a2a2a" text-anchor="middle" textLength="11.6" lengthAdjust="spacingAndGlyphs" >(3 h)</text>
<text x="254.00" y="517.00" font-size="5.8" fill="#2a2a2a" text-anchor="middle" textLength="13.0" lengthAdjust="spacingAndGlyphs" >+HID</text>
<text x="254.00" y="524.20" font-size="5.8" fill="#2a2a2a" text-anchor="middle" textLength="11.6" lengthAdjust="spacingAndGlyphs" >(6 h)</text>
<text x="291.25" y="517.00" font-size="5.8" fill="#2a2a2a" text-anchor="middle" textLength="13.2" lengthAdjust="spacingAndGlyphs" >+IDD</text>
<text x="291.25" y="524.20" font-size="5.8" fill="#2a2a2a" text-anchor="middle" textLength="15.0" lengthAdjust="spacingAndGlyphs" >(24 h)</text>
<text x="33.20" y="538.10" font-size="6.6" fill="#222"  textLength="9.9" lengthAdjust="spacingAndGlyphs" >Tfr1</text>
<text x="33.20" y="554.30" font-size="6.6" fill="#222"  textLength="9.9" lengthAdjust="spacingAndGlyphs" >Tfr2</text>
<text x="29.00" y="569.30" font-size="6.6" fill="#222"  textLength="17.9" lengthAdjust="spacingAndGlyphs" >ferritin</text>
<text x="29.00" y="581.50" font-size="6.6" fill="#222"  textLength="17.9" lengthAdjust="spacingAndGlyphs" >β-actin</text>
<line x1="50.20" y1="535.50" x2="61.50" y2="535.50" stroke="#111" stroke-width="1.3"/>
<path d="M60 533.1 L66.3 535.5 L60 537.9 Z" fill="#111"/>
<line x1="50.20" y1="551.80" x2="61.50" y2="551.80" stroke="#111" stroke-width="1.3"/>
<path d="M60 549.4 L66.3 551.8 L60 554.1999999999999 Z" fill="#111"/>
<line x1="50.20" y1="567.50" x2="61.50" y2="567.50" stroke="#111" stroke-width="1.3"/>
<path d="M60 565.1 L66.3 567.5 L60 569.9 Z" fill="#111"/>
<line x1="50.20" y1="580.10" x2="61.50" y2="580.10" stroke="#111" stroke-width="1.3"/>
<path d="M60 577.7 L66.3 580.1 L60 582.5 Z" fill="#111"/>
<rect x="69.60" y="531.50" width="113.70" height="8.80" fill="#f2f2f2"/>
<rect x="69.00" y="545.20" width="113.20" height="13.40" fill="#e9e9e9"/>
<rect x="69.60" y="564.60" width="113.00" height="5.90" fill="#d6d6d6"/>
<rect x="67.90" y="574.40" width="115.40" height="10.20" fill="#efefef"/>
<rect x="71.90" y="579.65" width="8.20" height="3.30" rx="1.65" ry="1.65" fill="rgb(10,10,10)" filter="url(#bl)"/>
<rect x="80.98" y="579.65" width="8.20" height="3.30" rx="1.65" ry="1.65" fill="rgb(10,10,10)" filter="url(#bl)"/>
<rect x="90.06" y="579.65" width="8.20" height="3.30" rx="1.65" ry="1.65" fill="rgb(10,10,10)" filter="url(#bl)"/>
<rect x="99.14" y="579.65" width="8.20" height="3.30" rx="1.65" ry="1.65" fill="rgb(10,10,10)" filter="url(#bl)"/>
<rect x="108.22" y="579.65" width="8.20" height="3.30" rx="1.65" ry="1.65" fill="rgb(10,10,10)" filter="url(#bl)"/>
<rect x="117.30" y="579.65" width="8.20" height="3.30" rx="1.65" ry="1.65" fill="rgb(10,10,10)" filter="url(#bl)"/>
<rect x="126.38" y="579.65" width="8.20" height="3.30" rx="1.65" ry="1.65" fill="rgb(10,10,10)" filter="url(#bl)"/>
<rect x="135.46" y="579.65" width="8.20" height="3.30" rx="1.65" ry="1.65" fill="rgb(10,10,10)" filter="url(#bl)"/>
<rect x="144.54" y="579.65" width="8.20" height="3.30" rx="1.65" ry="1.65" fill="rgb(10,10,10)" filter="url(#bl)"/>
<rect x="153.62" y="579.65" width="8.20" height="3.30" rx="1.65" ry="1.65" fill="rgb(10,10,10)" filter="url(#bl)"/>
<rect x="162.70" y="580.15" width="8.20" height="3.30" rx="1.65" ry="1.65" fill="rgb(10,10,10)" filter="url(#bl)"/>
<rect x="171.78" y="580.15" width="8.20" height="3.30" rx="1.65" ry="1.65" fill="rgb(10,10,10)" filter="url(#bl)"/>
<rect x="74.00" y="533.75" width="6.80" height="2.30" rx="1.15" ry="1.15" fill="rgb(62,62,62)" filter="url(#bl)"/>
<rect x="73.90" y="550.90" width="7.00" height="2.40" rx="1.20" ry="1.20" fill="rgb(71,71,71)" filter="url(#bl)"/>
<rect x="73.90" y="566.20" width="7.00" height="2.80" rx="1.40" ry="1.40" fill="rgb(125,125,125)" filter="url(#bl)"/>
<rect x="82.98" y="533.75" width="6.80" height="2.30" rx="1.15" ry="1.15" fill="rgb(85,85,85)" filter="url(#bl)"/>
<rect x="82.88" y="550.90" width="7.00" height="2.40" rx="1.20" ry="1.20" fill="rgb(125,125,125)" filter="url(#bl)"/>
<rect x="82.88" y="566.20" width="7.00" height="2.80" rx="1.40" ry="1.40" fill="rgb(116,116,116)" filter="url(#bl)"/>
<rect x="91.96" y="533.75" width="6.80" height="2.30" rx="1.15" ry="1.15" fill="rgb(29,29,29)" filter="url(#bl)"/>
<rect x="91.86" y="550.90" width="7.00" height="2.40" rx="1.20" ry="1.20" fill="rgb(157,157,157)" filter="url(#bl)"/>
<rect x="91.86" y="566.20" width="7.00" height="2.80" rx="1.40" ry="1.40" fill="rgb(174,174,174)" filter="url(#bl)"/>
<rect x="100.94" y="533.75" width="6.80" height="2.30" rx="1.15" ry="1.15" fill="rgb(96,96,96)" filter="url(#bl)"/>
<rect x="100.84" y="550.90" width="7.00" height="2.40" rx="1.20" ry="1.20" fill="rgb(168,168,168)" filter="url(#bl)"/>
<rect x="100.84" y="566.20" width="7.00" height="2.80" rx="1.40" ry="1.40" fill="rgb(165,165,165)" filter="url(#bl)"/>
<rect x="109.92" y="533.75" width="6.80" height="2.30" rx="1.15" ry="1.15" fill="rgb(51,51,51)" filter="url(#bl)"/>
<rect x="109.82" y="550.90" width="7.00" height="2.40" rx="1.20" ry="1.20" fill="rgb(82,82,82)" filter="url(#bl)"/>
<rect x="109.82" y="566.20" width="7.00" height="2.80" rx="1.40" ry="1.40" fill="rgb(155,155,155)" filter="url(#bl)"/>
<rect x="118.60" y="533.40" width="7.40" height="3.00" rx="1.50" ry="1.50" fill="rgb(18,18,18)" filter="url(#bl)"/>
<rect x="118.80" y="550.90" width="7.00" height="2.40" rx="1.20" ry="1.20" fill="rgb(39,39,39)" filter="url(#bl)"/>
<rect x="118.80" y="566.20" width="7.00" height="2.80" rx="1.40" ry="1.40" fill="rgb(165,165,165)" filter="url(#bl)"/>
<rect x="127.88" y="533.75" width="6.80" height="2.30" rx="1.15" ry="1.15" fill="rgb(51,51,51)" filter="url(#bl)"/>
<rect x="127.78" y="550.65" width="7.00" height="2.90" rx="1.45" ry="1.45" fill="rgb(18,18,18)" filter="url(#bl)"/>
<rect x="127.78" y="566.20" width="7.00" height="2.80" rx="1.40" ry="1.40" fill="rgb(86,86,86)" filter="url(#bl)"/>
<rect x="136.86" y="533.75" width="6.80" height="2.30" rx="1.15" ry="1.15" fill="rgb(29,29,29)" filter="url(#bl)"/>
<rect x="136.76" y="550.65" width="7.00" height="2.90" rx="1.45" ry="1.45" fill="rgb(39,39,39)" filter="url(#bl)"/>
<rect x="136.76" y="566.20" width="7.00" height="2.80" rx="1.40" ry="1.40" fill="rgb(165,165,165)" filter="url(#bl)"/>
<rect x="145.84" y="533.75" width="6.80" height="2.30" rx="1.15" ry="1.15" fill="rgb(152,152,152)" filter="url(#bl)"/>
<rect x="145.74" y="550.90" width="7.00" height="2.40" rx="1.20" ry="1.20" fill="rgb(28,28,28)" filter="url(#bl)"/>
<rect x="145.74" y="566.20" width="7.00" height="2.80" rx="1.40" ry="1.40" fill="rgb(37,37,37)" filter="url(#bl)"/>
<rect x="154.82" y="533.75" width="6.80" height="2.30" rx="1.15" ry="1.15" fill="rgb(163,163,163)" filter="url(#bl)"/>
<rect x="154.72" y="550.90" width="7.00" height="2.40" rx="1.20" ry="1.20" fill="rgb(104,104,104)" filter="url(#bl)"/>
<rect x="154.72" y="566.20" width="7.00" height="2.80" rx="1.40" ry="1.40" fill="rgb(27,27,27)" filter="url(#bl)"/>
<rect x="163.80" y="533.75" width="6.80" height="2.30" rx="1.15" ry="1.15" fill="rgb(163,163,163)" filter="url(#bl)"/>
<rect x="163.70" y="550.90" width="7.00" height="2.40" rx="1.20" ry="1.20" fill="rgb(168,168,168)" filter="url(#bl)"/>
<rect x="163.70" y="565.50" width="7.00" height="4.20" rx="2.10" ry="2.10" fill="rgb(10,10,10)" filter="url(#bl)"/>
<rect x="172.78" y="533.75" width="6.80" height="2.30" rx="1.15" ry="1.15" fill="rgb(174,174,174)" filter="url(#bl)"/>
<rect x="172.68" y="550.90" width="7.00" height="2.40" rx="1.20" ry="1.20" fill="rgb(179,179,179)" filter="url(#bl)"/>
<rect x="172.68" y="566.20" width="7.00" height="2.80" rx="1.40" ry="1.40" fill="rgb(57,57,57)" filter="url(#bl)"/>
<rect x="189.00" y="532.00" width="113.20" height="8.40" fill="#f3f3f3"/>
<rect x="189.00" y="545.30" width="111.60" height="13.30" fill="#ebebeb"/>
<rect x="189.00" y="564.30" width="113.60" height="6.30" fill="url(#fg)"/>
<rect x="187.50" y="574.20" width="117.80" height="13.80" fill="#f2f2f2"/>
<rect x="191.25" y="579.45" width="8.20" height="3.30" rx="1.65" ry="1.65" fill="rgb(10,10,10)" filter="url(#bl)"/>
<rect x="200.25" y="579.45" width="8.20" height="3.30" rx="1.65" ry="1.65" fill="rgb(10,10,10)" filter="url(#bl)"/>
<rect x="209.25" y="579.45" width="8.20" height="3.30" rx="1.65" ry="1.65" fill="rgb(10,10,10)" filter="url(#bl)"/>
<rect x="218.25" y="579.45" width="8.20" height="3.30" rx="1.65" ry="1.65" fill="rgb(10,10,10)" filter="url(#bl)"/>
<rect x="227.25" y="579.45" width="8.20" height="3.30" rx="1.65" ry="1.65" fill="rgb(10,10,10)" filter="url(#bl)"/>
<rect x="236.25" y="579.45" width="8.20" height="3.30" rx="1.65" ry="1.65" fill="rgb(10,10,10)" filter="url(#bl)"/>
<rect x="245.25" y="579.45" width="8.20" height="3.30" rx="1.65" ry="1.65" fill="rgb(10,10,10)" filter="url(#bl)"/>
<rect x="254.25" y="579.45" width="8.20" height="3.30" rx="1.65" ry="1.65" fill="rgb(10,10,10)" filter="url(#bl)"/>
<rect x="263.25" y="579.45" width="8.20" height="3.30" rx="1.65" ry="1.65" fill="rgb(10,10,10)" filter="url(#bl)"/>
<rect x="272.25" y="579.45" width="8.20" height="3.30" rx="1.65" ry="1.65" fill="rgb(10,10,10)" filter="url(#bl)"/>
<rect x="281.25" y="579.45" width="8.20" height="3.30" rx="1.65" ry="1.65" fill="rgb(10,10,10)" filter="url(#bl)"/>
<rect x="290.25" y="579.45" width="8.20" height="3.30" rx="1.65" ry="1.65" fill="rgb(10,10,10)" filter="url(#bl)"/>
<rect x="191.80" y="551.00" width="7.00" height="2.40" rx="1.20" ry="1.20" fill="rgb(104,104,104)" filter="url(#bl)"/>
<rect x="200.80" y="551.00" width="7.00" height="2.40" rx="1.20" ry="1.20" fill="rgb(137,137,137)" filter="url(#bl)"/>
<rect x="202.70" y="566.10" width="2.20" height="2.20" rx="1.10" ry="1.10" fill="rgb(36,36,36)" filter="url(#bl)"/>
<rect x="209.80" y="551.00" width="7.00" height="2.40" rx="1.20" ry="1.20" fill="rgb(180,180,180)" filter="url(#bl)"/>
<rect x="218.80" y="551.00" width="7.00" height="2.40" rx="1.20" ry="1.20" fill="rgb(169,169,169)" filter="url(#bl)"/>
<rect x="227.80" y="551.00" width="7.00" height="2.40" rx="1.20" ry="1.20" fill="rgb(72,72,72)" filter="url(#bl)"/>
<rect x="236.80" y="551.00" width="7.00" height="2.40" rx="1.20" ry="1.20" fill="rgb(115,115,115)" filter="url(#bl)"/>
<rect x="245.80" y="551.00" width="7.00" height="2.40" rx="1.20" ry="1.20" fill="rgb(18,18,18)" filter="url(#bl)"/>
<rect x="254.80" y="551.00" width="7.00" height="2.40" rx="1.20" ry="1.20" fill="rgb(39,39,39)" filter="url(#bl)"/>
<rect x="254.80" y="566.30" width="7.00" height="2.80" rx="1.40" ry="1.40" fill="rgb(166,166,166)" filter="url(#bl)"/>
<rect x="263.80" y="551.00" width="7.00" height="2.40" rx="1.20" ry="1.20" fill="rgb(18,18,18)" filter="url(#bl)"/>
<rect x="263.80" y="566.30" width="7.00" height="2.80" rx="1.40" ry="1.40" fill="rgb(45,45,45)" filter="url(#bl)"/>
<rect x="272.80" y="551.00" width="7.00" height="2.40" rx="1.20" ry="1.20" fill="rgb(39,39,39)" filter="url(#bl)"/>
<rect x="272.80" y="566.30" width="7.00" height="2.80" rx="1.40" ry="1.40" fill="rgb(36,36,36)" filter="url(#bl)"/>
<rect x="281.80" y="551.00" width="7.00" height="2.40" rx="1.20" ry="1.20" fill="rgb(148,148,148)" filter="url(#bl)"/>
<rect x="281.80" y="566.30" width="7.00" height="2.80" rx="1.40" ry="1.40" fill="rgb(73,73,73)" filter="url(#bl)"/>
<rect x="290.80" y="551.00" width="7.00" height="2.40" rx="1.20" ry="1.20" fill="rgb(137,137,137)" filter="url(#bl)"/>
<rect x="290.80" y="566.30" width="7.00" height="2.80" rx="1.40" ry="1.40" fill="rgb(64,64,64)" filter="url(#bl)"/>
<rect x="0" y="0" width="1" height="596" fill="#4a4a4a"/>
<rect x="1" y="0" width="1" height="596" fill="#a0a0a0"/>
<rect x="0" y="0" width="520" height="1" fill="#111"/>
<rect x="519" y="0" width="1" height="596" fill="#111"/>
<rect x="0" y="595" width="520" height="1" fill="#111"/>
</svg>
</body></html>
